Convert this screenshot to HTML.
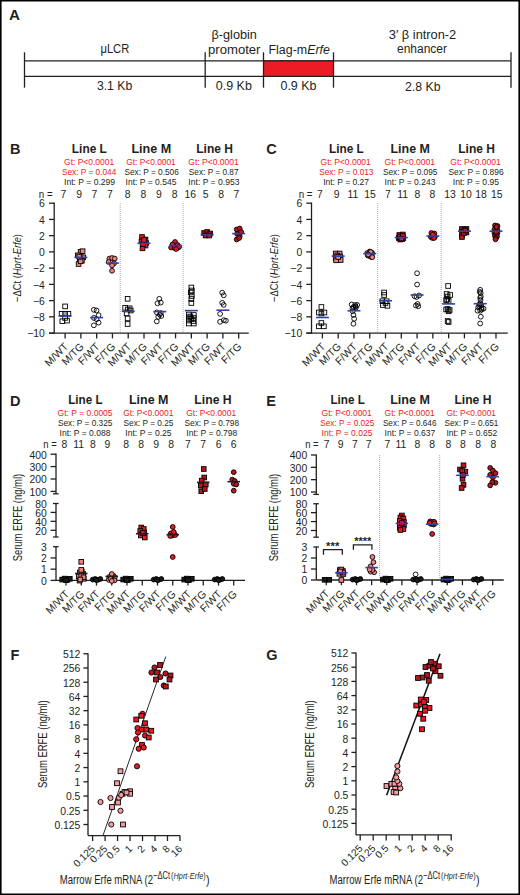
<!DOCTYPE html>
<html><head><meta charset="utf-8"><title>Figure</title>
<style>
html,body{margin:0;padding:0;background:#fff;}
body{width:520px;height:895px;overflow:hidden;}
svg{display:block;font-family:"Liberation Sans", sans-serif;}
</style></head>
<body>
<svg width="520" height="895" viewBox="0 0 520 895" fill="#231F20">
<rect x="0.8" y="0.7" width="518.4" height="893.6" fill="none" stroke="#000" stroke-width="1.6"/>
<text x="9.00" y="19.90" font-size="15" font-weight="bold" textLength="11.00" lengthAdjust="spacingAndGlyphs">A</text>
<line x1="24.50" y1="60.80" x2="511.00" y2="60.80" stroke="#231F20" stroke-width="1.3" />
<line x1="24.50" y1="76.40" x2="511.00" y2="76.40" stroke="#231F20" stroke-width="1.3" />
<rect x="263.5" y="60.8" width="70" height="15.6" fill="#ED1C24"/>
<line x1="263.50" y1="60.80" x2="333.50" y2="60.80" stroke="#231F20" stroke-width="1.3" />
<line x1="263.50" y1="76.40" x2="333.50" y2="76.40" stroke="#231F20" stroke-width="1.3" />
<line x1="24.50" y1="52.30" x2="24.50" y2="87.70" stroke="#231F20" stroke-width="1.3" />
<line x1="205.20" y1="52.30" x2="205.20" y2="87.70" stroke="#231F20" stroke-width="1.3" />
<line x1="263.50" y1="52.30" x2="263.50" y2="87.70" stroke="#231F20" stroke-width="1.3" />
<line x1="333.50" y1="52.30" x2="333.50" y2="87.70" stroke="#231F20" stroke-width="1.3" />
<line x1="511.00" y1="52.30" x2="511.00" y2="87.70" stroke="#231F20" stroke-width="1.3" />
<text x="114.85" y="52.80" font-size="12.3" text-anchor="middle" textLength="28.80" lengthAdjust="spacingAndGlyphs">μLCR</text>
<text x="114.60" y="90.30" font-size="12.3" text-anchor="middle" textLength="35.40" lengthAdjust="spacingAndGlyphs">3.1 Kb</text>
<text x="234.20" y="38.80" font-size="12.3" text-anchor="middle" textLength="45.40" lengthAdjust="spacingAndGlyphs">β-globin</text>
<text x="234.25" y="53.50" font-size="12.3" text-anchor="middle" textLength="52.50" lengthAdjust="spacingAndGlyphs">promoter</text>
<text x="233.80" y="89.80" font-size="12.3" text-anchor="middle" textLength="36.10" lengthAdjust="spacingAndGlyphs">0.9 Kb</text>
<text x="268.5" y="53.5" font-size="12.3" textLength="61.5" lengthAdjust="spacingAndGlyphs">Flag-m<tspan font-style="italic">Erfe</tspan></text>
<text x="298.50" y="89.80" font-size="12.3" text-anchor="middle" textLength="36.10" lengthAdjust="spacingAndGlyphs">0.9 Kb</text>
<text x="422.50" y="38.75" font-size="12.3" text-anchor="middle" textLength="67.50" lengthAdjust="spacingAndGlyphs">3′ β intron-2</text>
<text x="422.00" y="53.00" font-size="12.3" text-anchor="middle" textLength="50.00" lengthAdjust="spacingAndGlyphs">enhancer</text>
<text x="422.75" y="90.50" font-size="12.3" text-anchor="middle" textLength="35.50" lengthAdjust="spacingAndGlyphs">2.8 Kb</text>
<text x="10.00" y="153.80" font-size="14.5" font-weight="bold">B</text>
<text x="89.35" y="153.00" font-size="11.9" text-anchor="middle" font-weight="bold" textLength="35.10" lengthAdjust="spacingAndGlyphs">Line L</text>
<text x="89.15" y="165.10" font-size="8.3" text-anchor="middle" fill="#ED1C24" textLength="50.10" lengthAdjust="spacingAndGlyphs">Gt: P&lt;0.0001</text>
<text x="89.10" y="175.10" font-size="8.3" text-anchor="middle" fill="#ED1C24" textLength="54.40" lengthAdjust="spacingAndGlyphs">Sex: P = 0.044</text>
<text x="89.60" y="185.10" font-size="8.3" text-anchor="middle" textLength="51.00" lengthAdjust="spacingAndGlyphs">Int: P = 0.299</text>
<text x="151.30" y="153.00" font-size="11.9" text-anchor="middle" font-weight="bold" textLength="39.80" lengthAdjust="spacingAndGlyphs">Line M</text>
<text x="151.00" y="165.10" font-size="8.3" text-anchor="middle" fill="#ED1C24" textLength="49.60" lengthAdjust="spacingAndGlyphs">Gt: P&lt;0.0001</text>
<text x="151.60" y="175.10" font-size="8.3" text-anchor="middle" textLength="54.40" lengthAdjust="spacingAndGlyphs">Sex: P = 0.506</text>
<text x="151.00" y="185.10" font-size="8.3" text-anchor="middle" textLength="50.80" lengthAdjust="spacingAndGlyphs">Int: P = 0.545</text>
<text x="214.60" y="153.00" font-size="11.9" text-anchor="middle" font-weight="bold" textLength="36.80" lengthAdjust="spacingAndGlyphs">Line H</text>
<text x="213.50" y="165.10" font-size="8.3" text-anchor="middle" fill="#ED1C24" textLength="50.50" lengthAdjust="spacingAndGlyphs">Gt: P&lt;0.0001</text>
<text x="213.70" y="175.10" font-size="8.3" text-anchor="middle" textLength="49.70" lengthAdjust="spacingAndGlyphs">Sex: P = 0.87</text>
<text x="213.90" y="185.10" font-size="8.3" text-anchor="middle" textLength="51.10" lengthAdjust="spacingAndGlyphs">Int: P = 0.953</text>
<text x="52.60" y="197.80" font-size="10.4" text-anchor="end" textLength="13.80" lengthAdjust="spacingAndGlyphs">n =</text>
<text x="63.40" y="197.80" font-size="10.4" text-anchor="middle">7</text>
<text x="79.20" y="197.80" font-size="10.4" text-anchor="middle">9</text>
<text x="94.50" y="197.80" font-size="10.4" text-anchor="middle">7</text>
<text x="110.00" y="197.80" font-size="10.4" text-anchor="middle">7</text>
<text x="127.70" y="197.80" font-size="10.4" text-anchor="middle">8</text>
<text x="143.30" y="197.80" font-size="10.4" text-anchor="middle">8</text>
<text x="158.90" y="197.80" font-size="10.4" text-anchor="middle">9</text>
<text x="174.60" y="197.80" font-size="10.4" text-anchor="middle">8</text>
<text x="190.30" y="197.80" font-size="10.4" text-anchor="middle">16</text>
<text x="205.70" y="197.80" font-size="10.4" text-anchor="middle">5</text>
<text x="221.10" y="197.80" font-size="10.4" text-anchor="middle">8</text>
<text x="236.40" y="197.80" font-size="10.4" text-anchor="middle">7</text>
<line x1="54.20" y1="202.58" x2="54.20" y2="333.70" stroke="#231F20" stroke-width="1.3" />
<line x1="49.00" y1="333.10" x2="54.20" y2="333.10" stroke="#231F20" stroke-width="1.3" />
<text x="44.90" y="337.40" font-size="10.4" text-anchor="end">−10</text>
<line x1="49.00" y1="316.86" x2="54.20" y2="316.86" stroke="#231F20" stroke-width="1.3" />
<text x="44.90" y="321.16" font-size="10.4" text-anchor="end">−8</text>
<line x1="49.00" y1="300.62" x2="54.20" y2="300.62" stroke="#231F20" stroke-width="1.3" />
<text x="44.90" y="304.92" font-size="10.4" text-anchor="end">−6</text>
<line x1="49.00" y1="284.38" x2="54.20" y2="284.38" stroke="#231F20" stroke-width="1.3" />
<text x="44.90" y="288.68" font-size="10.4" text-anchor="end">−4</text>
<line x1="49.00" y1="268.14" x2="54.20" y2="268.14" stroke="#231F20" stroke-width="1.3" />
<text x="44.90" y="272.44" font-size="10.4" text-anchor="end">−2</text>
<line x1="49.00" y1="251.90" x2="54.20" y2="251.90" stroke="#231F20" stroke-width="1.3" />
<text x="44.90" y="256.20" font-size="10.4" text-anchor="end">0</text>
<line x1="49.00" y1="235.66" x2="54.20" y2="235.66" stroke="#231F20" stroke-width="1.3" />
<text x="44.90" y="239.96" font-size="10.4" text-anchor="end">2</text>
<line x1="49.00" y1="219.42" x2="54.20" y2="219.42" stroke="#231F20" stroke-width="1.3" />
<text x="44.90" y="223.72" font-size="10.4" text-anchor="end">4</text>
<line x1="49.00" y1="203.18" x2="54.20" y2="203.18" stroke="#231F20" stroke-width="1.3" />
<text x="44.90" y="207.48" font-size="10.4" text-anchor="end">6</text>
<line x1="49.00" y1="333.10" x2="248.75" y2="333.10" stroke="#231F20" stroke-width="1.3" />
<line x1="65.10" y1="333.10" x2="65.10" y2="338.40" stroke="#231F20" stroke-width="1.3" />
<text x="68.80" y="347.30" font-size="10.5" text-anchor="end" transform="rotate(-45 68.80 347.30)">M/WT</text>
<line x1="80.88" y1="333.10" x2="80.88" y2="338.40" stroke="#231F20" stroke-width="1.3" />
<text x="84.58" y="347.30" font-size="10.5" text-anchor="end" transform="rotate(-45 84.58 347.30)">M/TG</text>
<line x1="96.66" y1="333.10" x2="96.66" y2="338.40" stroke="#231F20" stroke-width="1.3" />
<text x="100.36" y="347.30" font-size="10.5" text-anchor="end" transform="rotate(-45 100.36 347.30)">F/WT</text>
<line x1="112.44" y1="333.10" x2="112.44" y2="338.40" stroke="#231F20" stroke-width="1.3" />
<text x="116.14" y="347.30" font-size="10.5" text-anchor="end" transform="rotate(-45 116.14 347.30)">F/TG</text>
<line x1="128.22" y1="333.10" x2="128.22" y2="338.40" stroke="#231F20" stroke-width="1.3" />
<text x="131.92" y="347.30" font-size="10.5" text-anchor="end" transform="rotate(-45 131.92 347.30)">M/WT</text>
<line x1="144.00" y1="333.10" x2="144.00" y2="338.40" stroke="#231F20" stroke-width="1.3" />
<text x="147.70" y="347.30" font-size="10.5" text-anchor="end" transform="rotate(-45 147.70 347.30)">M/TG</text>
<line x1="159.78" y1="333.10" x2="159.78" y2="338.40" stroke="#231F20" stroke-width="1.3" />
<text x="163.48" y="347.30" font-size="10.5" text-anchor="end" transform="rotate(-45 163.48 347.30)">F/WT</text>
<line x1="175.56" y1="333.10" x2="175.56" y2="338.40" stroke="#231F20" stroke-width="1.3" />
<text x="179.26" y="347.30" font-size="10.5" text-anchor="end" transform="rotate(-45 179.26 347.30)">F/TG</text>
<line x1="191.34" y1="333.10" x2="191.34" y2="338.40" stroke="#231F20" stroke-width="1.3" />
<text x="195.04" y="347.30" font-size="10.5" text-anchor="end" transform="rotate(-45 195.04 347.30)">M/WT</text>
<line x1="207.12" y1="333.10" x2="207.12" y2="338.40" stroke="#231F20" stroke-width="1.3" />
<text x="210.82" y="347.30" font-size="10.5" text-anchor="end" transform="rotate(-45 210.82 347.30)">M/TG</text>
<line x1="222.90" y1="333.10" x2="222.90" y2="338.40" stroke="#231F20" stroke-width="1.3" />
<text x="226.60" y="347.30" font-size="10.5" text-anchor="end" transform="rotate(-45 226.60 347.30)">F/WT</text>
<line x1="238.68" y1="333.10" x2="238.68" y2="338.40" stroke="#231F20" stroke-width="1.3" />
<text x="242.38" y="347.30" font-size="10.5" text-anchor="end" transform="rotate(-45 242.38 347.30)">F/TG</text>
<line x1="120.20" y1="203.00" x2="120.20" y2="332.10" stroke="#9a9a9a" stroke-width="0.9" stroke-dasharray="0.9 1.1"/>
<line x1="183.10" y1="203.00" x2="183.10" y2="332.10" stroke="#9a9a9a" stroke-width="0.9" stroke-dasharray="0.9 1.1"/>
<text x="21.30" y="268.0" font-size="11.6" text-anchor="middle" textLength="68.0" lengthAdjust="spacingAndGlyphs" transform="rotate(-90 21.30 268.0)">−ΔCt (<tspan font-style="italic">Hprt-Erfe</tspan>)</text>
<rect x="62.78" y="304.07" width="4.65" height="4.65" fill="none" stroke="#000" stroke-width="0.9"/>
<rect x="59.28" y="311.48" width="4.65" height="4.65" fill="none" stroke="#000" stroke-width="0.9"/>
<rect x="62.78" y="311.48" width="4.65" height="4.65" fill="none" stroke="#000" stroke-width="0.9"/>
<rect x="66.08" y="311.48" width="4.65" height="4.65" fill="none" stroke="#000" stroke-width="0.9"/>
<rect x="59.98" y="318.88" width="4.65" height="4.65" fill="none" stroke="#000" stroke-width="0.9"/>
<rect x="64.68" y="318.28" width="4.65" height="4.65" fill="none" stroke="#000" stroke-width="0.9"/>
<rect x="62.78" y="315.57" width="4.65" height="4.65" fill="none" stroke="#000" stroke-width="0.9"/>
<line x1="58.60" y1="315.80" x2="71.60" y2="315.80" stroke="#2D43A8" stroke-width="1.6" />
<rect x="78.26" y="249.58" width="4.65" height="4.65" fill="#F2807E" stroke="#000" stroke-width="0.9"/>
<rect x="80.26" y="248.88" width="4.65" height="4.65" fill="#F2807E" stroke="#000" stroke-width="0.9"/>
<rect x="75.56" y="252.98" width="4.65" height="4.65" fill="#F2807E" stroke="#000" stroke-width="0.9"/>
<rect x="80.96" y="254.98" width="4.65" height="4.65" fill="#F2807E" stroke="#000" stroke-width="0.9"/>
<rect x="77.56" y="256.28" width="4.65" height="4.65" fill="#F2807E" stroke="#000" stroke-width="0.9"/>
<rect x="79.56" y="258.38" width="4.65" height="4.65" fill="#F2807E" stroke="#000" stroke-width="0.9"/>
<rect x="76.26" y="261.68" width="4.65" height="4.65" fill="#F2807E" stroke="#000" stroke-width="0.9"/>
<rect x="78.26" y="258.98" width="4.65" height="4.65" fill="#F2807E" stroke="#000" stroke-width="0.9"/>
<rect x="76.86" y="254.28" width="4.65" height="4.65" fill="#F2807E" stroke="#000" stroke-width="0.9"/>
<line x1="74.38" y1="257.40" x2="87.38" y2="257.40" stroke="#2D43A8" stroke-width="1.6" />
<circle cx="93.86" cy="309.80" r="2.40" fill="none" stroke="#000" stroke-width="0.9"/>
<circle cx="96.56" cy="310.50" r="2.40" fill="none" stroke="#000" stroke-width="0.9"/>
<circle cx="98.56" cy="315.20" r="2.40" fill="none" stroke="#000" stroke-width="0.9"/>
<circle cx="93.86" cy="317.90" r="2.40" fill="none" stroke="#000" stroke-width="0.9"/>
<circle cx="96.56" cy="319.20" r="2.40" fill="none" stroke="#000" stroke-width="0.9"/>
<circle cx="98.56" cy="322.60" r="2.40" fill="none" stroke="#000" stroke-width="0.9"/>
<circle cx="93.86" cy="325.30" r="2.40" fill="none" stroke="#000" stroke-width="0.9"/>
<line x1="90.16" y1="317.60" x2="103.16" y2="317.60" stroke="#2D43A8" stroke-width="1.6" />
<circle cx="109.34" cy="258.60" r="2.40" fill="#F2807E" stroke="#000" stroke-width="0.9"/>
<circle cx="112.04" cy="258.00" r="2.40" fill="#F2807E" stroke="#000" stroke-width="0.9"/>
<circle cx="114.74" cy="258.60" r="2.40" fill="#F2807E" stroke="#000" stroke-width="0.9"/>
<circle cx="108.64" cy="262.00" r="2.40" fill="#F2807E" stroke="#000" stroke-width="0.9"/>
<circle cx="114.04" cy="263.40" r="2.40" fill="#F2807E" stroke="#000" stroke-width="0.9"/>
<circle cx="112.04" cy="265.40" r="2.40" fill="#F2807E" stroke="#000" stroke-width="0.9"/>
<circle cx="112.04" cy="270.80" r="2.40" fill="#F2807E" stroke="#000" stroke-width="0.9"/>
<line x1="105.94" y1="263.10" x2="118.94" y2="263.10" stroke="#2D43A8" stroke-width="1.6" />
<rect x="125.30" y="296.48" width="4.65" height="4.65" fill="none" stroke="#000" stroke-width="0.9"/>
<rect x="122.80" y="305.48" width="4.65" height="4.65" fill="none" stroke="#000" stroke-width="0.9"/>
<rect x="127.30" y="305.98" width="4.65" height="4.65" fill="none" stroke="#000" stroke-width="0.9"/>
<rect x="124.30" y="311.07" width="4.65" height="4.65" fill="none" stroke="#000" stroke-width="0.9"/>
<rect x="125.30" y="316.07" width="4.65" height="4.65" fill="none" stroke="#000" stroke-width="0.9"/>
<rect x="125.30" y="321.68" width="4.65" height="4.65" fill="none" stroke="#000" stroke-width="0.9"/>
<rect x="125.39" y="307.18" width="4.65" height="4.65" fill="none" stroke="#000" stroke-width="0.9"/>
<rect x="128.40" y="308.18" width="4.65" height="4.65" fill="none" stroke="#000" stroke-width="0.9"/>
<line x1="121.72" y1="311.30" x2="134.72" y2="311.30" stroke="#2D43A8" stroke-width="1.6" />
<rect x="139.68" y="234.68" width="4.65" height="4.65" fill="#EE1620" stroke="#000" stroke-width="0.9"/>
<rect x="143.18" y="237.18" width="4.65" height="4.65" fill="#EE1620" stroke="#000" stroke-width="0.9"/>
<rect x="143.68" y="240.68" width="4.65" height="4.65" fill="#EE1620" stroke="#000" stroke-width="0.9"/>
<rect x="139.18" y="239.18" width="4.65" height="4.65" fill="#EE1620" stroke="#000" stroke-width="0.9"/>
<rect x="143.18" y="243.18" width="4.65" height="4.65" fill="#EE1620" stroke="#000" stroke-width="0.9"/>
<rect x="140.18" y="245.98" width="4.65" height="4.65" fill="#EE1620" stroke="#000" stroke-width="0.9"/>
<rect x="140.68" y="241.68" width="4.65" height="4.65" fill="#EE1620" stroke="#000" stroke-width="0.9"/>
<rect x="141.68" y="237.68" width="4.65" height="4.65" fill="#EE1620" stroke="#000" stroke-width="0.9"/>
<line x1="137.50" y1="243.30" x2="150.50" y2="243.30" stroke="#2D43A8" stroke-width="1.6" />
<circle cx="159.28" cy="298.80" r="2.40" fill="none" stroke="#000" stroke-width="0.9"/>
<circle cx="157.48" cy="303.30" r="2.40" fill="none" stroke="#000" stroke-width="0.9"/>
<circle cx="160.78" cy="302.60" r="2.40" fill="none" stroke="#000" stroke-width="0.9"/>
<circle cx="156.78" cy="312.40" r="2.40" fill="none" stroke="#000" stroke-width="0.9"/>
<circle cx="159.78" cy="314.60" r="2.40" fill="none" stroke="#000" stroke-width="0.9"/>
<circle cx="161.28" cy="316.00" r="2.40" fill="none" stroke="#000" stroke-width="0.9"/>
<circle cx="158.28" cy="316.90" r="2.40" fill="none" stroke="#000" stroke-width="0.9"/>
<circle cx="156.78" cy="321.40" r="2.40" fill="none" stroke="#000" stroke-width="0.9"/>
<circle cx="160.78" cy="313.00" r="2.40" fill="none" stroke="#000" stroke-width="0.9"/>
<line x1="153.28" y1="311.60" x2="166.28" y2="311.60" stroke="#2D43A8" stroke-width="1.6" />
<circle cx="175.06" cy="242.00" r="2.40" fill="#EE1620" stroke="#000" stroke-width="0.9"/>
<circle cx="172.56" cy="244.50" r="2.40" fill="#EE1620" stroke="#000" stroke-width="0.9"/>
<circle cx="177.56" cy="245.00" r="2.40" fill="#EE1620" stroke="#000" stroke-width="0.9"/>
<circle cx="171.06" cy="247.50" r="2.40" fill="#EE1620" stroke="#000" stroke-width="0.9"/>
<circle cx="174.56" cy="248.00" r="2.40" fill="#EE1620" stroke="#000" stroke-width="0.9"/>
<circle cx="177.56" cy="248.00" r="2.40" fill="#EE1620" stroke="#000" stroke-width="0.9"/>
<circle cx="179.06" cy="247.00" r="2.40" fill="#EE1620" stroke="#000" stroke-width="0.9"/>
<circle cx="176.06" cy="249.00" r="2.40" fill="#EE1620" stroke="#000" stroke-width="0.9"/>
<line x1="169.06" y1="245.50" x2="182.06" y2="245.50" stroke="#2D43A8" stroke-width="1.6" />
<rect x="189.02" y="285.18" width="4.65" height="4.65" fill="none" stroke="#000" stroke-width="0.9"/>
<rect x="189.52" y="288.18" width="4.65" height="4.65" fill="none" stroke="#000" stroke-width="0.9"/>
<rect x="188.52" y="290.18" width="4.65" height="4.65" fill="none" stroke="#000" stroke-width="0.9"/>
<rect x="189.52" y="293.68" width="4.65" height="4.65" fill="none" stroke="#000" stroke-width="0.9"/>
<rect x="189.02" y="296.68" width="4.65" height="4.65" fill="none" stroke="#000" stroke-width="0.9"/>
<rect x="189.02" y="300.68" width="4.65" height="4.65" fill="none" stroke="#000" stroke-width="0.9"/>
<rect x="186.52" y="312.18" width="4.65" height="4.65" fill="none" stroke="#000" stroke-width="0.9"/>
<rect x="191.52" y="312.68" width="4.65" height="4.65" fill="none" stroke="#000" stroke-width="0.9"/>
<rect x="186.52" y="315.18" width="4.65" height="4.65" fill="none" stroke="#000" stroke-width="0.9"/>
<rect x="191.52" y="315.68" width="4.65" height="4.65" fill="none" stroke="#000" stroke-width="0.9"/>
<rect x="186.52" y="318.18" width="4.65" height="4.65" fill="none" stroke="#000" stroke-width="0.9"/>
<rect x="191.02" y="318.68" width="4.65" height="4.65" fill="none" stroke="#000" stroke-width="0.9"/>
<rect x="186.52" y="321.18" width="4.65" height="4.65" fill="none" stroke="#000" stroke-width="0.9"/>
<rect x="191.52" y="321.18" width="4.65" height="4.65" fill="none" stroke="#000" stroke-width="0.9"/>
<rect x="189.02" y="316.68" width="4.65" height="4.65" fill="none" stroke="#000" stroke-width="0.9"/>
<rect x="188.02" y="314.18" width="4.65" height="4.65" fill="none" stroke="#000" stroke-width="0.9"/>
<line x1="184.84" y1="310.60" x2="197.84" y2="310.60" stroke="#2D43A8" stroke-width="1.6" />
<rect x="201.80" y="230.68" width="4.65" height="4.65" fill="#B8161E" stroke="#000" stroke-width="0.9"/>
<rect x="204.80" y="229.68" width="4.65" height="4.65" fill="#B8161E" stroke="#000" stroke-width="0.9"/>
<rect x="207.80" y="231.18" width="4.65" height="4.65" fill="#B8161E" stroke="#000" stroke-width="0.9"/>
<rect x="203.30" y="233.18" width="4.65" height="4.65" fill="#B8161E" stroke="#000" stroke-width="0.9"/>
<rect x="206.80" y="233.18" width="4.65" height="4.65" fill="#B8161E" stroke="#000" stroke-width="0.9"/>
<line x1="200.62" y1="234.70" x2="213.62" y2="234.70" stroke="#2D43A8" stroke-width="1.6" />
<circle cx="222.20" cy="292.70" r="2.40" fill="none" stroke="#000" stroke-width="0.9"/>
<circle cx="223.70" cy="295.30" r="2.40" fill="none" stroke="#000" stroke-width="0.9"/>
<circle cx="222.20" cy="302.80" r="2.40" fill="none" stroke="#000" stroke-width="0.9"/>
<circle cx="223.70" cy="304.90" r="2.40" fill="none" stroke="#000" stroke-width="0.9"/>
<circle cx="220.10" cy="313.90" r="2.40" fill="none" stroke="#000" stroke-width="0.9"/>
<circle cx="220.10" cy="321.80" r="2.40" fill="none" stroke="#000" stroke-width="0.9"/>
<circle cx="223.80" cy="320.20" r="2.40" fill="none" stroke="#000" stroke-width="0.9"/>
<circle cx="225.90" cy="320.70" r="2.40" fill="none" stroke="#000" stroke-width="0.9"/>
<line x1="216.40" y1="310.20" x2="229.40" y2="310.20" stroke="#2D43A8" stroke-width="1.6" />
<circle cx="236.68" cy="229.50" r="2.40" fill="#B8161E" stroke="#000" stroke-width="0.9"/>
<circle cx="239.68" cy="228.50" r="2.40" fill="#B8161E" stroke="#000" stroke-width="0.9"/>
<circle cx="241.18" cy="232.00" r="2.40" fill="#B8161E" stroke="#000" stroke-width="0.9"/>
<circle cx="237.18" cy="234.00" r="2.40" fill="#B8161E" stroke="#000" stroke-width="0.9"/>
<circle cx="239.68" cy="236.50" r="2.40" fill="#B8161E" stroke="#000" stroke-width="0.9"/>
<circle cx="236.68" cy="239.50" r="2.40" fill="#B8161E" stroke="#000" stroke-width="0.9"/>
<circle cx="239.18" cy="238.00" r="2.40" fill="#B8161E" stroke="#000" stroke-width="0.9"/>
<line x1="232.18" y1="233.60" x2="245.18" y2="233.60" stroke="#2D43A8" stroke-width="1.6" />
<text x="266.30" y="153.80" font-size="14.5" font-weight="bold">C</text>
<text x="346.40" y="153.00" font-size="11.9" text-anchor="middle" font-weight="bold" textLength="34.80" lengthAdjust="spacingAndGlyphs">Line L</text>
<text x="345.70" y="165.10" font-size="8.3" text-anchor="middle" fill="#ED1C24" textLength="50.20" lengthAdjust="spacingAndGlyphs">Gt: P&lt;0.0001</text>
<text x="346.30" y="175.10" font-size="8.3" text-anchor="middle" fill="#ED1C24" textLength="54.30" lengthAdjust="spacingAndGlyphs">Sex: P = 0.013</text>
<text x="346.10" y="185.10" font-size="8.3" text-anchor="middle" textLength="45.80" lengthAdjust="spacingAndGlyphs">Int: P = 0.27</text>
<text x="410.20" y="153.00" font-size="11.9" text-anchor="middle" font-weight="bold" textLength="39.50" lengthAdjust="spacingAndGlyphs">Line M</text>
<text x="409.80" y="165.10" font-size="8.3" text-anchor="middle" fill="#ED1C24" textLength="50.40" lengthAdjust="spacingAndGlyphs">Gt: P&lt;0.0001</text>
<text x="410.20" y="175.10" font-size="8.3" text-anchor="middle" textLength="54.50" lengthAdjust="spacingAndGlyphs">Sex: P = 0.095</text>
<text x="410.00" y="185.10" font-size="8.3" text-anchor="middle" textLength="50.80" lengthAdjust="spacingAndGlyphs">Int: P = 0.243</text>
<text x="476.60" y="153.00" font-size="11.9" text-anchor="middle" font-weight="bold" textLength="36.80" lengthAdjust="spacingAndGlyphs">Line H</text>
<text x="475.60" y="165.10" font-size="8.3" text-anchor="middle" fill="#ED1C24" textLength="50.50" lengthAdjust="spacingAndGlyphs">Gt: P&lt;0.0001</text>
<text x="476.00" y="175.10" font-size="8.3" text-anchor="middle" textLength="55.20" lengthAdjust="spacingAndGlyphs">Sex: P = 0.896</text>
<text x="475.90" y="185.10" font-size="8.3" text-anchor="middle" textLength="46.30" lengthAdjust="spacingAndGlyphs">Int: P = 0.95</text>
<text x="312.50" y="197.80" font-size="10.4" text-anchor="end" textLength="13.80" lengthAdjust="spacingAndGlyphs">n =</text>
<text x="320.00" y="197.80" font-size="10.4" text-anchor="middle">7</text>
<text x="336.75" y="197.80" font-size="10.4" text-anchor="middle">9</text>
<text x="353.00" y="197.80" font-size="10.4" text-anchor="middle">11</text>
<text x="370.00" y="197.80" font-size="10.4" text-anchor="middle">15</text>
<text x="387.90" y="197.80" font-size="10.4" text-anchor="middle">7</text>
<text x="402.60" y="197.80" font-size="10.4" text-anchor="middle">11</text>
<text x="417.50" y="197.80" font-size="10.4" text-anchor="middle">8</text>
<text x="432.50" y="197.80" font-size="10.4" text-anchor="middle">8</text>
<text x="450.10" y="197.80" font-size="10.4" text-anchor="middle">13</text>
<text x="466.00" y="197.80" font-size="10.4" text-anchor="middle">10</text>
<text x="481.00" y="197.80" font-size="10.4" text-anchor="middle">18</text>
<text x="496.80" y="197.80" font-size="10.4" text-anchor="middle">15</text>
<line x1="311.50" y1="202.58" x2="311.50" y2="333.70" stroke="#231F20" stroke-width="1.3" />
<line x1="306.30" y1="333.10" x2="311.50" y2="333.10" stroke="#231F20" stroke-width="1.3" />
<text x="302.20" y="337.40" font-size="10.4" text-anchor="end">−10</text>
<line x1="306.30" y1="316.86" x2="311.50" y2="316.86" stroke="#231F20" stroke-width="1.3" />
<text x="302.20" y="321.16" font-size="10.4" text-anchor="end">−8</text>
<line x1="306.30" y1="300.62" x2="311.50" y2="300.62" stroke="#231F20" stroke-width="1.3" />
<text x="302.20" y="304.92" font-size="10.4" text-anchor="end">−6</text>
<line x1="306.30" y1="284.38" x2="311.50" y2="284.38" stroke="#231F20" stroke-width="1.3" />
<text x="302.20" y="288.68" font-size="10.4" text-anchor="end">−4</text>
<line x1="306.30" y1="268.14" x2="311.50" y2="268.14" stroke="#231F20" stroke-width="1.3" />
<text x="302.20" y="272.44" font-size="10.4" text-anchor="end">−2</text>
<line x1="306.30" y1="251.90" x2="311.50" y2="251.90" stroke="#231F20" stroke-width="1.3" />
<text x="302.20" y="256.20" font-size="10.4" text-anchor="end">0</text>
<line x1="306.30" y1="235.66" x2="311.50" y2="235.66" stroke="#231F20" stroke-width="1.3" />
<text x="302.20" y="239.96" font-size="10.4" text-anchor="end">2</text>
<line x1="306.30" y1="219.42" x2="311.50" y2="219.42" stroke="#231F20" stroke-width="1.3" />
<text x="302.20" y="223.72" font-size="10.4" text-anchor="end">4</text>
<line x1="306.30" y1="203.18" x2="311.50" y2="203.18" stroke="#231F20" stroke-width="1.3" />
<text x="302.20" y="207.48" font-size="10.4" text-anchor="end">6</text>
<line x1="306.30" y1="333.10" x2="507.80" y2="333.10" stroke="#231F20" stroke-width="1.3" />
<line x1="322.40" y1="333.10" x2="322.40" y2="338.40" stroke="#231F20" stroke-width="1.3" />
<text x="326.10" y="347.30" font-size="10.5" text-anchor="end" transform="rotate(-45 326.10 347.30)">M/WT</text>
<line x1="338.18" y1="333.10" x2="338.18" y2="338.40" stroke="#231F20" stroke-width="1.3" />
<text x="341.88" y="347.30" font-size="10.5" text-anchor="end" transform="rotate(-45 341.88 347.30)">M/TG</text>
<line x1="353.96" y1="333.10" x2="353.96" y2="338.40" stroke="#231F20" stroke-width="1.3" />
<text x="357.66" y="347.30" font-size="10.5" text-anchor="end" transform="rotate(-45 357.66 347.30)">F/WT</text>
<line x1="369.74" y1="333.10" x2="369.74" y2="338.40" stroke="#231F20" stroke-width="1.3" />
<text x="373.44" y="347.30" font-size="10.5" text-anchor="end" transform="rotate(-45 373.44 347.30)">F/TG</text>
<line x1="385.52" y1="333.10" x2="385.52" y2="338.40" stroke="#231F20" stroke-width="1.3" />
<text x="389.22" y="347.30" font-size="10.5" text-anchor="end" transform="rotate(-45 389.22 347.30)">M/WT</text>
<line x1="401.30" y1="333.10" x2="401.30" y2="338.40" stroke="#231F20" stroke-width="1.3" />
<text x="405.00" y="347.30" font-size="10.5" text-anchor="end" transform="rotate(-45 405.00 347.30)">M/TG</text>
<line x1="417.08" y1="333.10" x2="417.08" y2="338.40" stroke="#231F20" stroke-width="1.3" />
<text x="420.78" y="347.30" font-size="10.5" text-anchor="end" transform="rotate(-45 420.78 347.30)">F/WT</text>
<line x1="432.86" y1="333.10" x2="432.86" y2="338.40" stroke="#231F20" stroke-width="1.3" />
<text x="436.56" y="347.30" font-size="10.5" text-anchor="end" transform="rotate(-45 436.56 347.30)">F/TG</text>
<line x1="448.64" y1="333.10" x2="448.64" y2="338.40" stroke="#231F20" stroke-width="1.3" />
<text x="452.34" y="347.30" font-size="10.5" text-anchor="end" transform="rotate(-45 452.34 347.30)">M/WT</text>
<line x1="464.42" y1="333.10" x2="464.42" y2="338.40" stroke="#231F20" stroke-width="1.3" />
<text x="468.12" y="347.30" font-size="10.5" text-anchor="end" transform="rotate(-45 468.12 347.30)">M/TG</text>
<line x1="480.20" y1="333.10" x2="480.20" y2="338.40" stroke="#231F20" stroke-width="1.3" />
<text x="483.90" y="347.30" font-size="10.5" text-anchor="end" transform="rotate(-45 483.90 347.30)">F/WT</text>
<line x1="495.98" y1="333.10" x2="495.98" y2="338.40" stroke="#231F20" stroke-width="1.3" />
<text x="499.68" y="347.30" font-size="10.5" text-anchor="end" transform="rotate(-45 499.68 347.30)">F/TG</text>
<line x1="377.70" y1="203.00" x2="377.70" y2="332.10" stroke="#9a9a9a" stroke-width="0.9" stroke-dasharray="0.9 1.1"/>
<line x1="441.20" y1="203.00" x2="441.20" y2="332.10" stroke="#9a9a9a" stroke-width="0.9" stroke-dasharray="0.9 1.1"/>
<text x="277.90" y="268.0" font-size="11.6" text-anchor="middle" textLength="68.0" lengthAdjust="spacingAndGlyphs" transform="rotate(-90 277.90 268.0)">−ΔCt (<tspan font-style="italic">Hprt-Erfe</tspan>)</text>
<rect x="319.07" y="304.68" width="4.65" height="4.65" fill="none" stroke="#000" stroke-width="0.9"/>
<rect x="316.57" y="310.18" width="4.65" height="4.65" fill="none" stroke="#000" stroke-width="0.9"/>
<rect x="322.07" y="310.18" width="4.65" height="4.65" fill="none" stroke="#000" stroke-width="0.9"/>
<rect x="319.07" y="311.18" width="4.65" height="4.65" fill="none" stroke="#000" stroke-width="0.9"/>
<rect x="319.07" y="320.68" width="4.65" height="4.65" fill="none" stroke="#000" stroke-width="0.9"/>
<rect x="316.57" y="323.98" width="4.65" height="4.65" fill="none" stroke="#000" stroke-width="0.9"/>
<rect x="321.57" y="323.98" width="4.65" height="4.65" fill="none" stroke="#000" stroke-width="0.9"/>
<line x1="315.90" y1="317.50" x2="328.90" y2="317.50" stroke="#2D43A8" stroke-width="1.6" />
<rect x="333.35" y="251.18" width="4.65" height="4.65" fill="#F2807E" stroke="#000" stroke-width="0.9"/>
<rect x="337.35" y="251.18" width="4.65" height="4.65" fill="#F2807E" stroke="#000" stroke-width="0.9"/>
<rect x="334.85" y="253.18" width="4.65" height="4.65" fill="#F2807E" stroke="#000" stroke-width="0.9"/>
<rect x="337.85" y="254.18" width="4.65" height="4.65" fill="#F2807E" stroke="#000" stroke-width="0.9"/>
<rect x="333.35" y="256.18" width="4.65" height="4.65" fill="#F2807E" stroke="#000" stroke-width="0.9"/>
<rect x="336.35" y="257.18" width="4.65" height="4.65" fill="#F2807E" stroke="#000" stroke-width="0.9"/>
<rect x="338.35" y="257.68" width="4.65" height="4.65" fill="#F2807E" stroke="#000" stroke-width="0.9"/>
<rect x="333.85" y="257.98" width="4.65" height="4.65" fill="#F2807E" stroke="#000" stroke-width="0.9"/>
<rect x="335.85" y="254.68" width="4.65" height="4.65" fill="#F2807E" stroke="#000" stroke-width="0.9"/>
<line x1="331.68" y1="256.10" x2="344.68" y2="256.10" stroke="#2D43A8" stroke-width="1.6" />
<circle cx="351.66" cy="304.50" r="2.40" fill="none" stroke="#000" stroke-width="0.9"/>
<circle cx="355.16" cy="305.00" r="2.40" fill="none" stroke="#000" stroke-width="0.9"/>
<circle cx="357.16" cy="305.00" r="2.40" fill="none" stroke="#000" stroke-width="0.9"/>
<circle cx="353.46" cy="307.00" r="2.40" fill="none" stroke="#000" stroke-width="0.9"/>
<circle cx="355.46" cy="306.50" r="2.40" fill="none" stroke="#000" stroke-width="0.9"/>
<circle cx="352.66" cy="311.25" r="2.40" fill="none" stroke="#000" stroke-width="0.9"/>
<circle cx="353.46" cy="315.00" r="2.40" fill="none" stroke="#000" stroke-width="0.9"/>
<circle cx="354.16" cy="318.75" r="2.40" fill="none" stroke="#000" stroke-width="0.9"/>
<circle cx="353.46" cy="323.75" r="2.40" fill="none" stroke="#000" stroke-width="0.9"/>
<circle cx="355.96" cy="307.50" r="2.40" fill="none" stroke="#000" stroke-width="0.9"/>
<circle cx="352.46" cy="308.50" r="2.40" fill="none" stroke="#000" stroke-width="0.9"/>
<line x1="347.46" y1="310.75" x2="360.46" y2="310.75" stroke="#2D43A8" stroke-width="1.6" />
<circle cx="369.74" cy="251.50" r="2.40" fill="#F2807E" stroke="#000" stroke-width="0.9"/>
<circle cx="367.24" cy="253.00" r="2.40" fill="#F2807E" stroke="#000" stroke-width="0.9"/>
<circle cx="372.24" cy="253.00" r="2.40" fill="#F2807E" stroke="#000" stroke-width="0.9"/>
<circle cx="368.74" cy="254.00" r="2.40" fill="#F2807E" stroke="#000" stroke-width="0.9"/>
<circle cx="370.74" cy="253.50" r="2.40" fill="#F2807E" stroke="#000" stroke-width="0.9"/>
<circle cx="369.74" cy="255.00" r="2.40" fill="#F2807E" stroke="#000" stroke-width="0.9"/>
<circle cx="367.74" cy="255.50" r="2.40" fill="#F2807E" stroke="#000" stroke-width="0.9"/>
<circle cx="371.74" cy="255.50" r="2.40" fill="#F2807E" stroke="#000" stroke-width="0.9"/>
<circle cx="370.24" cy="256.50" r="2.40" fill="#F2807E" stroke="#000" stroke-width="0.9"/>
<circle cx="371.24" cy="256.80" r="2.40" fill="#F2807E" stroke="#000" stroke-width="0.9"/>
<circle cx="369.24" cy="252.50" r="2.40" fill="#F2807E" stroke="#000" stroke-width="0.9"/>
<circle cx="369.74" cy="254.50" r="2.40" fill="#F2807E" stroke="#000" stroke-width="0.9"/>
<circle cx="370.74" cy="252.00" r="2.40" fill="#F2807E" stroke="#000" stroke-width="0.9"/>
<circle cx="368.24" cy="254.50" r="2.40" fill="#F2807E" stroke="#000" stroke-width="0.9"/>
<circle cx="372.24" cy="257.20" r="2.40" fill="#F2807E" stroke="#000" stroke-width="0.9"/>
<line x1="363.24" y1="253.60" x2="376.24" y2="253.60" stroke="#2D43A8" stroke-width="1.6" />
<rect x="381.80" y="290.18" width="4.65" height="4.65" fill="none" stroke="#000" stroke-width="0.9"/>
<rect x="381.80" y="292.68" width="4.65" height="4.65" fill="none" stroke="#000" stroke-width="0.9"/>
<rect x="380.09" y="298.88" width="4.65" height="4.65" fill="none" stroke="#000" stroke-width="0.9"/>
<rect x="384.30" y="298.88" width="4.65" height="4.65" fill="none" stroke="#000" stroke-width="0.9"/>
<rect x="380.59" y="302.68" width="4.65" height="4.65" fill="none" stroke="#000" stroke-width="0.9"/>
<rect x="385.09" y="303.48" width="4.65" height="4.65" fill="none" stroke="#000" stroke-width="0.9"/>
<rect x="383.19" y="300.68" width="4.65" height="4.65" fill="none" stroke="#000" stroke-width="0.9"/>
<line x1="379.02" y1="300.75" x2="392.02" y2="300.75" stroke="#2D43A8" stroke-width="1.6" />
<rect x="396.97" y="232.68" width="4.65" height="4.65" fill="#EE1620" stroke="#000" stroke-width="0.9"/>
<rect x="400.47" y="232.18" width="4.65" height="4.65" fill="#EE1620" stroke="#000" stroke-width="0.9"/>
<rect x="398.97" y="234.18" width="4.65" height="4.65" fill="#EE1620" stroke="#000" stroke-width="0.9"/>
<rect x="396.47" y="235.68" width="4.65" height="4.65" fill="#EE1620" stroke="#000" stroke-width="0.9"/>
<rect x="400.97" y="235.68" width="4.65" height="4.65" fill="#EE1620" stroke="#000" stroke-width="0.9"/>
<rect x="397.97" y="237.18" width="4.65" height="4.65" fill="#EE1620" stroke="#000" stroke-width="0.9"/>
<rect x="399.97" y="236.68" width="4.65" height="4.65" fill="#EE1620" stroke="#000" stroke-width="0.9"/>
<rect x="398.97" y="235.18" width="4.65" height="4.65" fill="#EE1620" stroke="#000" stroke-width="0.9"/>
<rect x="397.47" y="234.18" width="4.65" height="4.65" fill="#EE1620" stroke="#000" stroke-width="0.9"/>
<rect x="400.47" y="233.68" width="4.65" height="4.65" fill="#EE1620" stroke="#000" stroke-width="0.9"/>
<rect x="398.97" y="236.18" width="4.65" height="4.65" fill="#EE1620" stroke="#000" stroke-width="0.9"/>
<line x1="394.80" y1="237.60" x2="407.80" y2="237.60" stroke="#2D43A8" stroke-width="1.6" />
<circle cx="417.08" cy="273.25" r="2.40" fill="none" stroke="#000" stroke-width="0.9"/>
<circle cx="417.08" cy="284.50" r="2.40" fill="none" stroke="#000" stroke-width="0.9"/>
<circle cx="414.58" cy="296.25" r="2.40" fill="none" stroke="#000" stroke-width="0.9"/>
<circle cx="419.08" cy="295.50" r="2.40" fill="none" stroke="#000" stroke-width="0.9"/>
<circle cx="416.58" cy="297.00" r="2.40" fill="none" stroke="#000" stroke-width="0.9"/>
<circle cx="415.88" cy="305.50" r="2.40" fill="none" stroke="#000" stroke-width="0.9"/>
<circle cx="418.28" cy="306.25" r="2.40" fill="none" stroke="#000" stroke-width="0.9"/>
<circle cx="417.58" cy="304.00" r="2.40" fill="none" stroke="#000" stroke-width="0.9"/>
<line x1="410.58" y1="295.00" x2="423.58" y2="295.00" stroke="#2D43A8" stroke-width="1.6" />
<circle cx="431.36" cy="233.00" r="2.40" fill="#EE1620" stroke="#000" stroke-width="0.9"/>
<circle cx="434.36" cy="233.50" r="2.40" fill="#EE1620" stroke="#000" stroke-width="0.9"/>
<circle cx="432.86" cy="235.50" r="2.40" fill="#EE1620" stroke="#000" stroke-width="0.9"/>
<circle cx="430.86" cy="237.00" r="2.40" fill="#EE1620" stroke="#000" stroke-width="0.9"/>
<circle cx="434.86" cy="237.00" r="2.40" fill="#EE1620" stroke="#000" stroke-width="0.9"/>
<circle cx="432.36" cy="238.00" r="2.40" fill="#EE1620" stroke="#000" stroke-width="0.9"/>
<circle cx="434.06" cy="238.00" r="2.40" fill="#EE1620" stroke="#000" stroke-width="0.9"/>
<circle cx="432.86" cy="234.50" r="2.40" fill="#EE1620" stroke="#000" stroke-width="0.9"/>
<line x1="426.36" y1="236.00" x2="439.36" y2="236.00" stroke="#2D43A8" stroke-width="1.6" />
<rect x="445.81" y="283.68" width="4.65" height="4.65" fill="none" stroke="#000" stroke-width="0.9"/>
<rect x="444.31" y="291.68" width="4.65" height="4.65" fill="none" stroke="#000" stroke-width="0.9"/>
<rect x="447.81" y="292.68" width="4.65" height="4.65" fill="none" stroke="#000" stroke-width="0.9"/>
<rect x="445.31" y="294.18" width="4.65" height="4.65" fill="none" stroke="#000" stroke-width="0.9"/>
<rect x="443.81" y="297.68" width="4.65" height="4.65" fill="none" stroke="#000" stroke-width="0.9"/>
<rect x="446.31" y="298.68" width="4.65" height="4.65" fill="none" stroke="#000" stroke-width="0.9"/>
<rect x="444.81" y="297.18" width="4.65" height="4.65" fill="none" stroke="#000" stroke-width="0.9"/>
<rect x="443.81" y="307.18" width="4.65" height="4.65" fill="none" stroke="#000" stroke-width="0.9"/>
<rect x="447.31" y="307.68" width="4.65" height="4.65" fill="none" stroke="#000" stroke-width="0.9"/>
<rect x="446.31" y="308.98" width="4.65" height="4.65" fill="none" stroke="#000" stroke-width="0.9"/>
<rect x="445.31" y="306.68" width="4.65" height="4.65" fill="none" stroke="#000" stroke-width="0.9"/>
<rect x="445.31" y="318.68" width="4.65" height="4.65" fill="none" stroke="#000" stroke-width="0.9"/>
<rect x="446.31" y="319.68" width="4.65" height="4.65" fill="none" stroke="#000" stroke-width="0.9"/>
<line x1="442.14" y1="303.90" x2="455.14" y2="303.90" stroke="#2D43A8" stroke-width="1.6" />
<rect x="459.59" y="226.68" width="4.65" height="4.65" fill="#B8161E" stroke="#000" stroke-width="0.9"/>
<rect x="464.09" y="226.68" width="4.65" height="4.65" fill="#B8161E" stroke="#000" stroke-width="0.9"/>
<rect x="462.09" y="227.68" width="4.65" height="4.65" fill="#B8161E" stroke="#000" stroke-width="0.9"/>
<rect x="460.09" y="229.68" width="4.65" height="4.65" fill="#B8161E" stroke="#000" stroke-width="0.9"/>
<rect x="464.09" y="230.18" width="4.65" height="4.65" fill="#B8161E" stroke="#000" stroke-width="0.9"/>
<rect x="459.59" y="232.68" width="4.65" height="4.65" fill="#B8161E" stroke="#000" stroke-width="0.9"/>
<rect x="459.59" y="234.68" width="4.65" height="4.65" fill="#B8161E" stroke="#000" stroke-width="0.9"/>
<rect x="462.09" y="228.68" width="4.65" height="4.65" fill="#B8161E" stroke="#000" stroke-width="0.9"/>
<rect x="461.59" y="230.68" width="4.65" height="4.65" fill="#B8161E" stroke="#000" stroke-width="0.9"/>
<rect x="463.09" y="228.18" width="4.65" height="4.65" fill="#B8161E" stroke="#000" stroke-width="0.9"/>
<line x1="457.92" y1="231.20" x2="470.92" y2="231.20" stroke="#2D43A8" stroke-width="1.6" />
<circle cx="480.20" cy="289.80" r="2.40" fill="none" stroke="#000" stroke-width="0.9"/>
<circle cx="479.70" cy="291.80" r="2.40" fill="none" stroke="#000" stroke-width="0.9"/>
<circle cx="480.70" cy="293.00" r="2.40" fill="none" stroke="#000" stroke-width="0.9"/>
<circle cx="480.80" cy="296.50" r="2.40" fill="none" stroke="#000" stroke-width="0.9"/>
<circle cx="480.20" cy="297.90" r="2.40" fill="none" stroke="#000" stroke-width="0.9"/>
<circle cx="480.50" cy="300.00" r="2.40" fill="none" stroke="#000" stroke-width="0.9"/>
<circle cx="480.20" cy="303.30" r="2.40" fill="none" stroke="#000" stroke-width="0.9"/>
<circle cx="479.70" cy="304.50" r="2.40" fill="none" stroke="#000" stroke-width="0.9"/>
<circle cx="478.20" cy="307.30" r="2.40" fill="none" stroke="#000" stroke-width="0.9"/>
<circle cx="481.60" cy="308.00" r="2.40" fill="none" stroke="#000" stroke-width="0.9"/>
<circle cx="483.60" cy="308.60" r="2.40" fill="none" stroke="#000" stroke-width="0.9"/>
<circle cx="477.50" cy="310.70" r="2.40" fill="none" stroke="#000" stroke-width="0.9"/>
<circle cx="480.20" cy="310.70" r="2.40" fill="none" stroke="#000" stroke-width="0.9"/>
<circle cx="481.70" cy="309.50" r="2.40" fill="none" stroke="#000" stroke-width="0.9"/>
<circle cx="480.80" cy="316.70" r="2.40" fill="none" stroke="#000" stroke-width="0.9"/>
<circle cx="480.20" cy="323.50" r="2.40" fill="none" stroke="#000" stroke-width="0.9"/>
<circle cx="479.20" cy="306.00" r="2.40" fill="none" stroke="#000" stroke-width="0.9"/>
<circle cx="481.20" cy="305.00" r="2.40" fill="none" stroke="#000" stroke-width="0.9"/>
<line x1="473.70" y1="303.70" x2="486.70" y2="303.70" stroke="#2D43A8" stroke-width="1.6" />
<circle cx="494.98" cy="225.50" r="2.40" fill="#B8161E" stroke="#000" stroke-width="0.9"/>
<circle cx="497.48" cy="226.00" r="2.40" fill="#B8161E" stroke="#000" stroke-width="0.9"/>
<circle cx="495.98" cy="228.00" r="2.40" fill="#B8161E" stroke="#000" stroke-width="0.9"/>
<circle cx="494.48" cy="229.50" r="2.40" fill="#B8161E" stroke="#000" stroke-width="0.9"/>
<circle cx="497.48" cy="230.00" r="2.40" fill="#B8161E" stroke="#000" stroke-width="0.9"/>
<circle cx="495.98" cy="231.50" r="2.40" fill="#B8161E" stroke="#000" stroke-width="0.9"/>
<circle cx="494.48" cy="233.00" r="2.40" fill="#B8161E" stroke="#000" stroke-width="0.9"/>
<circle cx="497.48" cy="233.00" r="2.40" fill="#B8161E" stroke="#000" stroke-width="0.9"/>
<circle cx="495.98" cy="234.50" r="2.40" fill="#B8161E" stroke="#000" stroke-width="0.9"/>
<circle cx="494.98" cy="236.00" r="2.40" fill="#B8161E" stroke="#000" stroke-width="0.9"/>
<circle cx="496.98" cy="236.50" r="2.40" fill="#B8161E" stroke="#000" stroke-width="0.9"/>
<circle cx="495.98" cy="238.00" r="2.40" fill="#B8161E" stroke="#000" stroke-width="0.9"/>
<circle cx="495.48" cy="239.30" r="2.40" fill="#B8161E" stroke="#000" stroke-width="0.9"/>
<circle cx="496.48" cy="227.00" r="2.40" fill="#B8161E" stroke="#000" stroke-width="0.9"/>
<circle cx="495.98" cy="232.00" r="2.40" fill="#B8161E" stroke="#000" stroke-width="0.9"/>
<line x1="489.48" y1="231.20" x2="502.48" y2="231.20" stroke="#2D43A8" stroke-width="1.6" />
<text x="10.00" y="405.60" font-size="14.5" font-weight="bold">D</text>
<text x="85.40" y="403.75" font-size="11.9" text-anchor="middle" font-weight="bold" textLength="34.40" lengthAdjust="spacingAndGlyphs">Line L</text>
<text x="85.10" y="415.85" font-size="8.3" text-anchor="middle" fill="#ED1C24" textLength="55.00" lengthAdjust="spacingAndGlyphs">Gt: P = 0.0005</text>
<text x="85.20" y="425.85" font-size="8.3" text-anchor="middle" textLength="54.50" lengthAdjust="spacingAndGlyphs">Sex: P = 0.325</text>
<text x="85.00" y="435.85" font-size="8.3" text-anchor="middle" textLength="50.80" lengthAdjust="spacingAndGlyphs">Int: P = 0.088</text>
<text x="148.70" y="403.75" font-size="11.9" text-anchor="middle" font-weight="bold" textLength="39.60" lengthAdjust="spacingAndGlyphs">Line M</text>
<text x="148.30" y="415.85" font-size="8.3" text-anchor="middle" fill="#ED1C24" textLength="50.30" lengthAdjust="spacingAndGlyphs">Gt: P&lt;0.0001</text>
<text x="148.50" y="425.85" font-size="8.3" text-anchor="middle" textLength="49.80" lengthAdjust="spacingAndGlyphs">Sex: P = 0.25</text>
<text x="148.50" y="435.85" font-size="8.3" text-anchor="middle" textLength="46.30" lengthAdjust="spacingAndGlyphs">Int: P = 0.25</text>
<text x="213.00" y="403.75" font-size="11.9" text-anchor="middle" font-weight="bold" textLength="37.30" lengthAdjust="spacingAndGlyphs">Line H</text>
<text x="211.20" y="415.85" font-size="8.3" text-anchor="middle" fill="#ED1C24" textLength="49.80" lengthAdjust="spacingAndGlyphs">Gt: P&lt;0.0001</text>
<text x="211.80" y="425.85" font-size="8.3" text-anchor="middle" textLength="54.40" lengthAdjust="spacingAndGlyphs">Sex: P = 0.798</text>
<text x="211.80" y="435.85" font-size="8.3" text-anchor="middle" textLength="51.00" lengthAdjust="spacingAndGlyphs">Int: P = 0.798</text>
<text x="56.70" y="448.00" font-size="10.4" text-anchor="end" textLength="13.40" lengthAdjust="spacingAndGlyphs">n =</text>
<text x="64.50" y="448.00" font-size="10.4" text-anchor="middle">8</text>
<text x="78.75" y="448.00" font-size="10.4" text-anchor="middle">11</text>
<text x="93.00" y="448.00" font-size="10.4" text-anchor="middle">8</text>
<text x="107.50" y="448.00" font-size="10.4" text-anchor="middle">9</text>
<text x="126.25" y="448.00" font-size="10.4" text-anchor="middle">8</text>
<text x="141.25" y="448.00" font-size="10.4" text-anchor="middle">8</text>
<text x="156.25" y="448.00" font-size="10.4" text-anchor="middle">9</text>
<text x="171.25" y="448.00" font-size="10.4" text-anchor="middle">8</text>
<text x="188.00" y="448.00" font-size="10.4" text-anchor="middle">7</text>
<text x="203.25" y="448.00" font-size="10.4" text-anchor="middle">7</text>
<text x="218.75" y="448.00" font-size="10.4" text-anchor="middle">6</text>
<text x="233.75" y="448.00" font-size="10.4" text-anchor="middle">6</text>
<line x1="56.00" y1="453.60" x2="56.00" y2="493.80" stroke="#231F20" stroke-width="1.3" />
<line x1="53.00" y1="493.80" x2="58.60" y2="493.80" stroke="#231F20" stroke-width="1.3" />
<line x1="50.60" y1="454.20" x2="56.00" y2="454.20" stroke="#231F20" stroke-width="1.3" />
<text x="46.90" y="458.50" font-size="10.4" text-anchor="end">400</text>
<line x1="50.60" y1="466.60" x2="56.00" y2="466.60" stroke="#231F20" stroke-width="1.3" />
<text x="46.90" y="470.90" font-size="10.4" text-anchor="end">300</text>
<line x1="50.60" y1="479.00" x2="56.00" y2="479.00" stroke="#231F20" stroke-width="1.3" />
<text x="46.90" y="483.30" font-size="10.4" text-anchor="end">200</text>
<line x1="50.60" y1="491.40" x2="56.00" y2="491.40" stroke="#231F20" stroke-width="1.3" />
<text x="46.90" y="495.70" font-size="10.4" text-anchor="end">100</text>
<line x1="56.00" y1="503.50" x2="56.00" y2="537.00" stroke="#231F20" stroke-width="1.3" />
<line x1="53.00" y1="503.50" x2="58.60" y2="503.50" stroke="#231F20" stroke-width="1.3" />
<line x1="53.00" y1="537.00" x2="58.60" y2="537.00" stroke="#231F20" stroke-width="1.3" />
<text x="46.90" y="507.80" font-size="10.4" text-anchor="end">80</text>
<line x1="50.60" y1="512.43" x2="56.00" y2="512.43" stroke="#231F20" stroke-width="1.3" />
<text x="46.90" y="516.73" font-size="10.4" text-anchor="end">60</text>
<line x1="50.60" y1="521.37" x2="56.00" y2="521.37" stroke="#231F20" stroke-width="1.3" />
<text x="46.90" y="525.67" font-size="10.4" text-anchor="end">40</text>
<line x1="50.60" y1="530.30" x2="56.00" y2="530.30" stroke="#231F20" stroke-width="1.3" />
<text x="46.90" y="534.60" font-size="10.4" text-anchor="end">20</text>
<line x1="56.00" y1="546.70" x2="56.00" y2="580.40" stroke="#231F20" stroke-width="1.3" />
<line x1="53.00" y1="546.70" x2="58.60" y2="546.70" stroke="#231F20" stroke-width="1.3" />
<text x="46.90" y="551.00" font-size="10.4" text-anchor="end">3</text>
<line x1="50.60" y1="557.93" x2="56.00" y2="557.93" stroke="#231F20" stroke-width="1.3" />
<text x="46.90" y="562.23" font-size="10.4" text-anchor="end">2</text>
<line x1="50.60" y1="569.17" x2="56.00" y2="569.17" stroke="#231F20" stroke-width="1.3" />
<text x="46.90" y="573.47" font-size="10.4" text-anchor="end">1</text>
<line x1="50.60" y1="580.40" x2="56.00" y2="580.40" stroke="#231F20" stroke-width="1.3" />
<text x="46.90" y="584.70" font-size="10.4" text-anchor="end">0</text>
<line x1="56.00" y1="580.40" x2="245.00" y2="580.40" stroke="#231F20" stroke-width="1.3" />
<line x1="66.00" y1="580.40" x2="66.00" y2="585.60" stroke="#231F20" stroke-width="1.3" />
<text x="69.90" y="594.60" font-size="10.5" text-anchor="end" transform="rotate(-45 69.90 594.60)">M/WT</text>
<line x1="81.25" y1="580.40" x2="81.25" y2="585.60" stroke="#231F20" stroke-width="1.3" />
<text x="85.15" y="594.60" font-size="10.5" text-anchor="end" transform="rotate(-45 85.15 594.60)">M/TG</text>
<line x1="96.50" y1="580.40" x2="96.50" y2="585.60" stroke="#231F20" stroke-width="1.3" />
<text x="100.40" y="594.60" font-size="10.5" text-anchor="end" transform="rotate(-45 100.40 594.60)">F/WT</text>
<line x1="111.75" y1="580.40" x2="111.75" y2="585.60" stroke="#231F20" stroke-width="1.3" />
<text x="115.65" y="594.60" font-size="10.5" text-anchor="end" transform="rotate(-45 115.65 594.60)">F/TG</text>
<line x1="127.00" y1="580.40" x2="127.00" y2="585.60" stroke="#231F20" stroke-width="1.3" />
<text x="130.90" y="594.60" font-size="10.5" text-anchor="end" transform="rotate(-45 130.90 594.60)">M/WT</text>
<line x1="142.25" y1="580.40" x2="142.25" y2="585.60" stroke="#231F20" stroke-width="1.3" />
<text x="146.15" y="594.60" font-size="10.5" text-anchor="end" transform="rotate(-45 146.15 594.60)">M/TG</text>
<line x1="157.50" y1="580.40" x2="157.50" y2="585.60" stroke="#231F20" stroke-width="1.3" />
<text x="161.40" y="594.60" font-size="10.5" text-anchor="end" transform="rotate(-45 161.40 594.60)">F/WT</text>
<line x1="172.75" y1="580.40" x2="172.75" y2="585.60" stroke="#231F20" stroke-width="1.3" />
<text x="176.65" y="594.60" font-size="10.5" text-anchor="end" transform="rotate(-45 176.65 594.60)">F/TG</text>
<line x1="188.00" y1="580.40" x2="188.00" y2="585.60" stroke="#231F20" stroke-width="1.3" />
<text x="191.90" y="594.60" font-size="10.5" text-anchor="end" transform="rotate(-45 191.90 594.60)">M/WT</text>
<line x1="203.25" y1="580.40" x2="203.25" y2="585.60" stroke="#231F20" stroke-width="1.3" />
<text x="207.15" y="594.60" font-size="10.5" text-anchor="end" transform="rotate(-45 207.15 594.60)">M/TG</text>
<line x1="218.50" y1="580.40" x2="218.50" y2="585.60" stroke="#231F20" stroke-width="1.3" />
<text x="222.40" y="594.60" font-size="10.5" text-anchor="end" transform="rotate(-45 222.40 594.60)">F/WT</text>
<line x1="233.75" y1="580.40" x2="233.75" y2="585.60" stroke="#231F20" stroke-width="1.3" />
<text x="237.65" y="594.60" font-size="10.5" text-anchor="end" transform="rotate(-45 237.65 594.60)">F/TG</text>
<text x="21.70" y="517.60" font-size="13.5" text-anchor="middle" textLength="87.50" lengthAdjust="spacingAndGlyphs" transform="rotate(-90 21.70 517.60)">Serum ERFE (ng/ml)</text>
<rect x="59.88" y="577.27" width="4.65" height="4.65" fill="#1b1b1b" stroke="#000" stroke-width="0.9"/>
<rect x="62.38" y="576.27" width="4.65" height="4.65" fill="#1b1b1b" stroke="#000" stroke-width="0.9"/>
<rect x="64.97" y="577.47" width="4.65" height="4.65" fill="#1b1b1b" stroke="#000" stroke-width="0.9"/>
<rect x="67.47" y="576.47" width="4.65" height="4.65" fill="#1b1b1b" stroke="#000" stroke-width="0.9"/>
<rect x="63.67" y="577.88" width="4.65" height="4.65" fill="#1b1b1b" stroke="#000" stroke-width="0.9"/>
<rect x="77.42" y="570.17" width="4.65" height="4.65" fill="#F2807E" stroke="#000" stroke-width="0.9"/>
<rect x="80.92" y="571.67" width="4.65" height="4.65" fill="#F2807E" stroke="#000" stroke-width="0.9"/>
<rect x="79.42" y="569.17" width="4.65" height="4.65" fill="#F2807E" stroke="#000" stroke-width="0.9"/>
<rect x="76.42" y="574.17" width="4.65" height="4.65" fill="#F2807E" stroke="#000" stroke-width="0.9"/>
<rect x="81.42" y="576.47" width="4.65" height="4.65" fill="#F2807E" stroke="#000" stroke-width="0.9"/>
<rect x="78.92" y="573.17" width="4.65" height="4.65" fill="#F2807E" stroke="#000" stroke-width="0.9"/>
<rect x="78.92" y="559.47" width="4.65" height="4.65" fill="#F2807E" stroke="#000" stroke-width="0.9"/>
<rect x="78.92" y="567.57" width="4.65" height="4.65" fill="#F2807E" stroke="#000" stroke-width="0.9"/>
<rect x="81.22" y="574.97" width="4.65" height="4.65" fill="#F2807E" stroke="#000" stroke-width="0.9"/>
<rect x="77.22" y="578.27" width="4.65" height="4.65" fill="#F2807E" stroke="#000" stroke-width="0.9"/>
<rect x="77.92" y="577.17" width="4.65" height="4.65" fill="#F2807E" stroke="#000" stroke-width="0.9"/>
<line x1="75.00" y1="573.50" x2="87.50" y2="573.50" stroke="#231F20" stroke-width="1.6" />
<circle cx="92.70" cy="579.60" r="2.40" fill="#1b1b1b" stroke="#000" stroke-width="0.9"/>
<circle cx="95.20" cy="579.00" r="2.40" fill="#1b1b1b" stroke="#000" stroke-width="0.9"/>
<circle cx="97.80" cy="579.80" r="2.40" fill="#1b1b1b" stroke="#000" stroke-width="0.9"/>
<circle cx="100.30" cy="579.00" r="2.40" fill="#1b1b1b" stroke="#000" stroke-width="0.9"/>
<circle cx="96.50" cy="580.20" r="2.40" fill="#1b1b1b" stroke="#000" stroke-width="0.9"/>
<circle cx="109.25" cy="577.00" r="2.40" fill="#F2807E" stroke="#000" stroke-width="0.9"/>
<circle cx="113.75" cy="576.00" r="2.40" fill="#F2807E" stroke="#000" stroke-width="0.9"/>
<circle cx="114.75" cy="577.50" r="2.40" fill="#F2807E" stroke="#000" stroke-width="0.9"/>
<circle cx="112.25" cy="579.50" r="2.40" fill="#F2807E" stroke="#000" stroke-width="0.9"/>
<circle cx="108.75" cy="579.80" r="2.40" fill="#F2807E" stroke="#000" stroke-width="0.9"/>
<circle cx="111.75" cy="574.00" r="2.40" fill="#F2807E" stroke="#000" stroke-width="0.9"/>
<circle cx="110.55" cy="578.80" r="2.40" fill="#F2807E" stroke="#000" stroke-width="0.9"/>
<circle cx="114.55" cy="580.40" r="2.40" fill="#F2807E" stroke="#000" stroke-width="0.9"/>
<circle cx="111.75" cy="581.00" r="2.40" fill="#F2807E" stroke="#000" stroke-width="0.9"/>
<line x1="105.50" y1="576.40" x2="118.00" y2="576.40" stroke="#231F20" stroke-width="1.6" />
<rect x="120.88" y="577.27" width="4.65" height="4.65" fill="#1b1b1b" stroke="#000" stroke-width="0.9"/>
<rect x="123.38" y="576.27" width="4.65" height="4.65" fill="#1b1b1b" stroke="#000" stroke-width="0.9"/>
<rect x="125.98" y="577.47" width="4.65" height="4.65" fill="#1b1b1b" stroke="#000" stroke-width="0.9"/>
<rect x="128.48" y="576.47" width="4.65" height="4.65" fill="#1b1b1b" stroke="#000" stroke-width="0.9"/>
<rect x="124.67" y="577.88" width="4.65" height="4.65" fill="#1b1b1b" stroke="#000" stroke-width="0.9"/>
<rect x="138.93" y="525.17" width="4.65" height="4.65" fill="#EE1620" stroke="#000" stroke-width="0.9"/>
<rect x="141.43" y="526.67" width="4.65" height="4.65" fill="#EE1620" stroke="#000" stroke-width="0.9"/>
<rect x="137.93" y="528.67" width="4.65" height="4.65" fill="#EE1620" stroke="#000" stroke-width="0.9"/>
<rect x="141.93" y="530.17" width="4.65" height="4.65" fill="#EE1620" stroke="#000" stroke-width="0.9"/>
<rect x="139.93" y="531.67" width="4.65" height="4.65" fill="#EE1620" stroke="#000" stroke-width="0.9"/>
<rect x="138.43" y="533.17" width="4.65" height="4.65" fill="#EE1620" stroke="#000" stroke-width="0.9"/>
<rect x="142.43" y="535.17" width="4.65" height="4.65" fill="#EE1620" stroke="#000" stroke-width="0.9"/>
<rect x="140.43" y="530.67" width="4.65" height="4.65" fill="#EE1620" stroke="#000" stroke-width="0.9"/>
<line x1="136.00" y1="533.75" x2="148.50" y2="533.75" stroke="#231F20" stroke-width="1.6" />
<circle cx="153.70" cy="579.60" r="2.40" fill="#1b1b1b" stroke="#000" stroke-width="0.9"/>
<circle cx="156.20" cy="579.00" r="2.40" fill="#1b1b1b" stroke="#000" stroke-width="0.9"/>
<circle cx="158.80" cy="579.80" r="2.40" fill="#1b1b1b" stroke="#000" stroke-width="0.9"/>
<circle cx="161.30" cy="579.00" r="2.40" fill="#1b1b1b" stroke="#000" stroke-width="0.9"/>
<circle cx="157.50" cy="580.20" r="2.40" fill="#1b1b1b" stroke="#000" stroke-width="0.9"/>
<circle cx="172.75" cy="527.00" r="2.40" fill="#EE1620" stroke="#000" stroke-width="0.9"/>
<circle cx="170.75" cy="533.50" r="2.40" fill="#EE1620" stroke="#000" stroke-width="0.9"/>
<circle cx="174.25" cy="534.50" r="2.40" fill="#EE1620" stroke="#000" stroke-width="0.9"/>
<circle cx="172.25" cy="535.50" r="2.40" fill="#EE1620" stroke="#000" stroke-width="0.9"/>
<circle cx="175.25" cy="535.00" r="2.40" fill="#EE1620" stroke="#000" stroke-width="0.9"/>
<circle cx="170.25" cy="536.00" r="2.40" fill="#EE1620" stroke="#000" stroke-width="0.9"/>
<circle cx="172.75" cy="557.00" r="2.40" fill="#EE1620" stroke="#000" stroke-width="0.9"/>
<circle cx="173.75" cy="532.00" r="2.40" fill="#EE1620" stroke="#000" stroke-width="0.9"/>
<line x1="166.50" y1="534.75" x2="179.00" y2="534.75" stroke="#231F20" stroke-width="1.6" />
<rect x="181.88" y="577.27" width="4.65" height="4.65" fill="#1b1b1b" stroke="#000" stroke-width="0.9"/>
<rect x="184.38" y="576.27" width="4.65" height="4.65" fill="#1b1b1b" stroke="#000" stroke-width="0.9"/>
<rect x="186.98" y="577.47" width="4.65" height="4.65" fill="#1b1b1b" stroke="#000" stroke-width="0.9"/>
<rect x="189.48" y="576.47" width="4.65" height="4.65" fill="#1b1b1b" stroke="#000" stroke-width="0.9"/>
<rect x="185.68" y="577.88" width="4.65" height="4.65" fill="#1b1b1b" stroke="#000" stroke-width="0.9"/>
<rect x="201.43" y="466.68" width="4.65" height="4.65" fill="#B8161E" stroke="#000" stroke-width="0.9"/>
<rect x="201.93" y="475.18" width="4.65" height="4.65" fill="#B8161E" stroke="#000" stroke-width="0.9"/>
<rect x="199.43" y="478.28" width="4.65" height="4.65" fill="#B8161E" stroke="#000" stroke-width="0.9"/>
<rect x="198.43" y="483.07" width="4.65" height="4.65" fill="#B8161E" stroke="#000" stroke-width="0.9"/>
<rect x="203.43" y="482.18" width="4.65" height="4.65" fill="#B8161E" stroke="#000" stroke-width="0.9"/>
<rect x="198.93" y="488.88" width="4.65" height="4.65" fill="#B8161E" stroke="#000" stroke-width="0.9"/>
<rect x="202.43" y="486.68" width="4.65" height="4.65" fill="#B8161E" stroke="#000" stroke-width="0.9"/>
<line x1="197.00" y1="482.40" x2="209.50" y2="482.40" stroke="#231F20" stroke-width="1.6" />
<circle cx="214.70" cy="579.60" r="2.40" fill="#1b1b1b" stroke="#000" stroke-width="0.9"/>
<circle cx="217.20" cy="579.00" r="2.40" fill="#1b1b1b" stroke="#000" stroke-width="0.9"/>
<circle cx="219.80" cy="579.80" r="2.40" fill="#1b1b1b" stroke="#000" stroke-width="0.9"/>
<circle cx="222.30" cy="579.00" r="2.40" fill="#1b1b1b" stroke="#000" stroke-width="0.9"/>
<circle cx="218.50" cy="580.20" r="2.40" fill="#1b1b1b" stroke="#000" stroke-width="0.9"/>
<circle cx="233.75" cy="472.20" r="2.40" fill="#B8161E" stroke="#000" stroke-width="0.9"/>
<circle cx="232.25" cy="479.60" r="2.40" fill="#B8161E" stroke="#000" stroke-width="0.9"/>
<circle cx="234.75" cy="481.00" r="2.40" fill="#B8161E" stroke="#000" stroke-width="0.9"/>
<circle cx="233.75" cy="483.80" r="2.40" fill="#B8161E" stroke="#000" stroke-width="0.9"/>
<circle cx="236.25" cy="484.50" r="2.40" fill="#B8161E" stroke="#000" stroke-width="0.9"/>
<circle cx="233.75" cy="490.70" r="2.40" fill="#B8161E" stroke="#000" stroke-width="0.9"/>
<line x1="227.50" y1="481.70" x2="240.00" y2="481.70" stroke="#231F20" stroke-width="1.6" />
<text x="266.30" y="405.60" font-size="14.5" font-weight="bold">E</text>
<text x="347.60" y="403.75" font-size="11.9" text-anchor="middle" font-weight="bold" textLength="34.40" lengthAdjust="spacingAndGlyphs">Line L</text>
<text x="346.70" y="415.85" font-size="8.3" text-anchor="middle" fill="#ED1C24" textLength="50.20" lengthAdjust="spacingAndGlyphs">Gt: P&lt;0.0001</text>
<text x="347.20" y="425.85" font-size="8.3" text-anchor="middle" fill="#ED1C24" textLength="54.10" lengthAdjust="spacingAndGlyphs">Sex: P = 0.025</text>
<text x="347.00" y="435.85" font-size="8.3" text-anchor="middle" fill="#ED1C24" textLength="50.80" lengthAdjust="spacingAndGlyphs">Int: P = 0.025</text>
<text x="410.10" y="403.75" font-size="11.9" text-anchor="middle" font-weight="bold" textLength="39.80" lengthAdjust="spacingAndGlyphs">Line M</text>
<text x="409.60" y="415.85" font-size="8.3" text-anchor="middle" fill="#ED1C24" textLength="50.00" lengthAdjust="spacingAndGlyphs">Gt: P&lt;0.0001</text>
<text x="409.70" y="425.85" font-size="8.3" text-anchor="middle" textLength="53.50" lengthAdjust="spacingAndGlyphs">Sex: P = 0.646</text>
<text x="409.90" y="435.85" font-size="8.3" text-anchor="middle" textLength="50.60" lengthAdjust="spacingAndGlyphs">Int: P = 0.637</text>
<text x="472.90" y="403.75" font-size="11.9" text-anchor="middle" font-weight="bold" textLength="37.00" lengthAdjust="spacingAndGlyphs">Line H</text>
<text x="471.20" y="415.85" font-size="8.3" text-anchor="middle" fill="#ED1C24" textLength="49.60" lengthAdjust="spacingAndGlyphs">Gt: P&lt;0.0001</text>
<text x="471.50" y="425.85" font-size="8.3" text-anchor="middle" textLength="53.80" lengthAdjust="spacingAndGlyphs">Sex: P = 0.651</text>
<text x="471.80" y="435.85" font-size="8.3" text-anchor="middle" textLength="50.80" lengthAdjust="spacingAndGlyphs">Int: P = 0.652</text>
<text x="318.60" y="448.00" font-size="10.4" text-anchor="end" textLength="13.40" lengthAdjust="spacingAndGlyphs">n =</text>
<text x="326.70" y="448.00" font-size="10.4" text-anchor="middle">7</text>
<text x="340.70" y="448.00" font-size="10.4" text-anchor="middle">9</text>
<text x="355.00" y="448.00" font-size="10.4" text-anchor="middle">7</text>
<text x="368.75" y="448.00" font-size="10.4" text-anchor="middle">7</text>
<text x="387.50" y="448.00" font-size="10.4" text-anchor="middle">7</text>
<text x="400.90" y="448.00" font-size="10.4" text-anchor="middle">11</text>
<text x="417.40" y="448.00" font-size="10.4" text-anchor="middle">8</text>
<text x="432.20" y="448.00" font-size="10.4" text-anchor="middle">8</text>
<text x="448.30" y="448.00" font-size="10.4" text-anchor="middle">8</text>
<text x="462.80" y="448.00" font-size="10.4" text-anchor="middle">8</text>
<text x="478.20" y="448.00" font-size="10.4" text-anchor="middle">8</text>
<text x="493.50" y="448.00" font-size="10.4" text-anchor="middle">8</text>
<line x1="316.30" y1="454.40" x2="316.30" y2="494.40" stroke="#231F20" stroke-width="1.3" />
<line x1="313.30" y1="494.40" x2="318.90" y2="494.40" stroke="#231F20" stroke-width="1.3" />
<line x1="310.90" y1="455.00" x2="316.30" y2="455.00" stroke="#231F20" stroke-width="1.3" />
<text x="307.20" y="459.30" font-size="10.4" text-anchor="end">400</text>
<line x1="310.90" y1="467.33" x2="316.30" y2="467.33" stroke="#231F20" stroke-width="1.3" />
<text x="307.20" y="471.63" font-size="10.4" text-anchor="end">300</text>
<line x1="310.90" y1="479.67" x2="316.30" y2="479.67" stroke="#231F20" stroke-width="1.3" />
<text x="307.20" y="483.97" font-size="10.4" text-anchor="end">200</text>
<line x1="310.90" y1="492.00" x2="316.30" y2="492.00" stroke="#231F20" stroke-width="1.3" />
<text x="307.20" y="496.30" font-size="10.4" text-anchor="end">100</text>
<line x1="316.30" y1="503.75" x2="316.30" y2="537.20" stroke="#231F20" stroke-width="1.3" />
<line x1="313.30" y1="503.75" x2="318.90" y2="503.75" stroke="#231F20" stroke-width="1.3" />
<line x1="313.30" y1="537.20" x2="318.90" y2="537.20" stroke="#231F20" stroke-width="1.3" />
<text x="307.20" y="508.05" font-size="10.4" text-anchor="end">80</text>
<line x1="310.90" y1="512.67" x2="316.30" y2="512.67" stroke="#231F20" stroke-width="1.3" />
<text x="307.20" y="516.97" font-size="10.4" text-anchor="end">60</text>
<line x1="310.90" y1="521.58" x2="316.30" y2="521.58" stroke="#231F20" stroke-width="1.3" />
<text x="307.20" y="525.88" font-size="10.4" text-anchor="end">40</text>
<line x1="310.90" y1="530.50" x2="316.30" y2="530.50" stroke="#231F20" stroke-width="1.3" />
<text x="307.20" y="534.80" font-size="10.4" text-anchor="end">20</text>
<line x1="316.30" y1="547.00" x2="316.30" y2="580.00" stroke="#231F20" stroke-width="1.3" />
<line x1="313.30" y1="547.00" x2="318.90" y2="547.00" stroke="#231F20" stroke-width="1.3" />
<text x="307.20" y="551.30" font-size="10.4" text-anchor="end">3</text>
<line x1="310.90" y1="558.00" x2="316.30" y2="558.00" stroke="#231F20" stroke-width="1.3" />
<text x="307.20" y="562.30" font-size="10.4" text-anchor="end">2</text>
<line x1="310.90" y1="569.00" x2="316.30" y2="569.00" stroke="#231F20" stroke-width="1.3" />
<text x="307.20" y="573.30" font-size="10.4" text-anchor="end">1</text>
<line x1="310.90" y1="580.00" x2="316.30" y2="580.00" stroke="#231F20" stroke-width="1.3" />
<text x="307.20" y="584.30" font-size="10.4" text-anchor="end">0</text>
<line x1="316.30" y1="580.00" x2="503.80" y2="580.00" stroke="#231F20" stroke-width="1.3" />
<line x1="326.25" y1="580.00" x2="326.25" y2="585.20" stroke="#231F20" stroke-width="1.3" />
<text x="330.15" y="594.20" font-size="10.5" text-anchor="end" transform="rotate(-45 330.15 594.20)">M/WT</text>
<line x1="341.38" y1="580.00" x2="341.38" y2="585.20" stroke="#231F20" stroke-width="1.3" />
<text x="345.28" y="594.20" font-size="10.5" text-anchor="end" transform="rotate(-45 345.28 594.20)">M/TG</text>
<line x1="356.51" y1="580.00" x2="356.51" y2="585.20" stroke="#231F20" stroke-width="1.3" />
<text x="360.41" y="594.20" font-size="10.5" text-anchor="end" transform="rotate(-45 360.41 594.20)">F/WT</text>
<line x1="371.64" y1="580.00" x2="371.64" y2="585.20" stroke="#231F20" stroke-width="1.3" />
<text x="375.54" y="594.20" font-size="10.5" text-anchor="end" transform="rotate(-45 375.54 594.20)">F/TG</text>
<line x1="386.77" y1="580.00" x2="386.77" y2="585.20" stroke="#231F20" stroke-width="1.3" />
<text x="390.67" y="594.20" font-size="10.5" text-anchor="end" transform="rotate(-45 390.67 594.20)">M/WT</text>
<line x1="401.90" y1="580.00" x2="401.90" y2="585.20" stroke="#231F20" stroke-width="1.3" />
<text x="405.80" y="594.20" font-size="10.5" text-anchor="end" transform="rotate(-45 405.80 594.20)">M/TG</text>
<line x1="417.03" y1="580.00" x2="417.03" y2="585.20" stroke="#231F20" stroke-width="1.3" />
<text x="420.93" y="594.20" font-size="10.5" text-anchor="end" transform="rotate(-45 420.93 594.20)">F/WT</text>
<line x1="432.16" y1="580.00" x2="432.16" y2="585.20" stroke="#231F20" stroke-width="1.3" />
<text x="436.06" y="594.20" font-size="10.5" text-anchor="end" transform="rotate(-45 436.06 594.20)">F/TG</text>
<line x1="447.29" y1="580.00" x2="447.29" y2="585.20" stroke="#231F20" stroke-width="1.3" />
<text x="451.19" y="594.20" font-size="10.5" text-anchor="end" transform="rotate(-45 451.19 594.20)">M/WT</text>
<line x1="462.42" y1="580.00" x2="462.42" y2="585.20" stroke="#231F20" stroke-width="1.3" />
<text x="466.32" y="594.20" font-size="10.5" text-anchor="end" transform="rotate(-45 466.32 594.20)">M/TG</text>
<line x1="477.55" y1="580.00" x2="477.55" y2="585.20" stroke="#231F20" stroke-width="1.3" />
<text x="481.45" y="594.20" font-size="10.5" text-anchor="end" transform="rotate(-45 481.45 594.20)">F/WT</text>
<line x1="492.68" y1="580.00" x2="492.68" y2="585.20" stroke="#231F20" stroke-width="1.3" />
<text x="496.58" y="594.20" font-size="10.5" text-anchor="end" transform="rotate(-45 496.58 594.20)">F/TG</text>
<line x1="379.60" y1="455.00" x2="379.60" y2="579.00" stroke="#9a9a9a" stroke-width="0.9" stroke-dasharray="0.9 1.1"/>
<line x1="439.70" y1="455.00" x2="439.70" y2="579.00" stroke="#9a9a9a" stroke-width="0.9" stroke-dasharray="0.9 1.1"/>
<text x="278.10" y="517.60" font-size="13.5" text-anchor="middle" textLength="87.50" lengthAdjust="spacingAndGlyphs" transform="rotate(-90 278.10 517.60)">Serum ERFE (ng/ml)</text>
<rect x="322.32" y="577.47" width="4.65" height="4.65" fill="#1b1b1b" stroke="#000" stroke-width="0.9"/>
<rect x="326.93" y="577.47" width="4.65" height="4.65" fill="#1b1b1b" stroke="#000" stroke-width="0.9"/>
<rect x="339.06" y="577.67" width="4.65" height="4.65" fill="#F2807E" stroke="#000" stroke-width="0.9"/>
<rect x="337.56" y="567.67" width="4.65" height="4.65" fill="#F2807E" stroke="#000" stroke-width="0.9"/>
<rect x="340.56" y="568.67" width="4.65" height="4.65" fill="#F2807E" stroke="#000" stroke-width="0.9"/>
<rect x="339.06" y="570.17" width="4.65" height="4.65" fill="#F2807E" stroke="#000" stroke-width="0.9"/>
<rect x="337.06" y="571.47" width="4.65" height="4.65" fill="#F2807E" stroke="#000" stroke-width="0.9"/>
<rect x="341.06" y="571.67" width="4.65" height="4.65" fill="#F2807E" stroke="#000" stroke-width="0.9"/>
<rect x="339.06" y="567.17" width="4.65" height="4.65" fill="#F2807E" stroke="#000" stroke-width="0.9"/>
<rect x="340.56" y="570.17" width="4.65" height="4.65" fill="#F2807E" stroke="#000" stroke-width="0.9"/>
<rect x="338.06" y="569.17" width="4.65" height="4.65" fill="#F2807E" stroke="#000" stroke-width="0.9"/>
<line x1="335.13" y1="572.80" x2="347.63" y2="572.80" stroke="#2D43A8" stroke-width="1.6" />
<circle cx="352.71" cy="579.60" r="2.40" fill="#1b1b1b" stroke="#000" stroke-width="0.9"/>
<circle cx="355.21" cy="579.00" r="2.40" fill="#1b1b1b" stroke="#000" stroke-width="0.9"/>
<circle cx="357.81" cy="579.80" r="2.40" fill="#1b1b1b" stroke="#000" stroke-width="0.9"/>
<circle cx="360.31" cy="579.00" r="2.40" fill="#1b1b1b" stroke="#000" stroke-width="0.9"/>
<circle cx="356.51" cy="580.20" r="2.40" fill="#1b1b1b" stroke="#000" stroke-width="0.9"/>
<circle cx="372.44" cy="557.00" r="2.40" fill="#F2807E" stroke="#000" stroke-width="0.9"/>
<circle cx="373.44" cy="562.20" r="2.40" fill="#F2807E" stroke="#000" stroke-width="0.9"/>
<circle cx="370.54" cy="566.40" r="2.40" fill="#F2807E" stroke="#000" stroke-width="0.9"/>
<circle cx="374.14" cy="572.30" r="2.40" fill="#F2807E" stroke="#000" stroke-width="0.9"/>
<circle cx="370.64" cy="571.60" r="2.40" fill="#F2807E" stroke="#000" stroke-width="0.9"/>
<circle cx="372.44" cy="570.00" r="2.40" fill="#F2807E" stroke="#000" stroke-width="0.9"/>
<circle cx="369.64" cy="569.50" r="2.40" fill="#F2807E" stroke="#000" stroke-width="0.9"/>
<line x1="365.39" y1="567.60" x2="377.89" y2="567.60" stroke="#2D43A8" stroke-width="1.6" />
<rect x="380.64" y="577.27" width="4.65" height="4.65" fill="#1b1b1b" stroke="#000" stroke-width="0.9"/>
<rect x="383.14" y="576.27" width="4.65" height="4.65" fill="#1b1b1b" stroke="#000" stroke-width="0.9"/>
<rect x="385.75" y="577.47" width="4.65" height="4.65" fill="#1b1b1b" stroke="#000" stroke-width="0.9"/>
<rect x="388.25" y="576.47" width="4.65" height="4.65" fill="#1b1b1b" stroke="#000" stroke-width="0.9"/>
<rect x="384.44" y="577.88" width="4.65" height="4.65" fill="#1b1b1b" stroke="#000" stroke-width="0.9"/>
<rect x="399.57" y="513.17" width="4.65" height="4.65" fill="#EE1620" stroke="#000" stroke-width="0.9"/>
<rect x="398.07" y="515.17" width="4.65" height="4.65" fill="#EE1620" stroke="#000" stroke-width="0.9"/>
<rect x="401.07" y="516.17" width="4.65" height="4.65" fill="#EE1620" stroke="#000" stroke-width="0.9"/>
<rect x="397.57" y="518.67" width="4.65" height="4.65" fill="#EE1620" stroke="#000" stroke-width="0.9"/>
<rect x="401.57" y="519.67" width="4.65" height="4.65" fill="#EE1620" stroke="#000" stroke-width="0.9"/>
<rect x="397.57" y="522.17" width="4.65" height="4.65" fill="#EE1620" stroke="#000" stroke-width="0.9"/>
<rect x="401.57" y="523.17" width="4.65" height="4.65" fill="#EE1620" stroke="#000" stroke-width="0.9"/>
<rect x="397.57" y="525.67" width="4.65" height="4.65" fill="#EE1620" stroke="#000" stroke-width="0.9"/>
<rect x="401.07" y="526.67" width="4.65" height="4.65" fill="#EE1620" stroke="#000" stroke-width="0.9"/>
<rect x="398.07" y="527.67" width="4.65" height="4.65" fill="#EE1620" stroke="#000" stroke-width="0.9"/>
<rect x="399.57" y="520.67" width="4.65" height="4.65" fill="#EE1620" stroke="#000" stroke-width="0.9"/>
<line x1="395.65" y1="523.40" x2="408.15" y2="523.40" stroke="#2D43A8" stroke-width="1.6" />
<circle cx="413.23" cy="579.60" r="2.40" fill="#1b1b1b" stroke="#000" stroke-width="0.9"/>
<circle cx="415.73" cy="579.00" r="2.40" fill="#1b1b1b" stroke="#000" stroke-width="0.9"/>
<circle cx="418.33" cy="579.80" r="2.40" fill="#1b1b1b" stroke="#000" stroke-width="0.9"/>
<circle cx="420.83" cy="579.00" r="2.40" fill="#1b1b1b" stroke="#000" stroke-width="0.9"/>
<circle cx="417.03" cy="580.20" r="2.40" fill="#1b1b1b" stroke="#000" stroke-width="0.9"/>
<circle cx="415.63" cy="574.40" r="2.40" fill="none" stroke="#000" stroke-width="0.9"/>
<circle cx="430.16" cy="521.40" r="2.40" fill="#EE1620" stroke="#000" stroke-width="0.9"/>
<circle cx="432.16" cy="522.00" r="2.40" fill="#EE1620" stroke="#000" stroke-width="0.9"/>
<circle cx="434.16" cy="521.80" r="2.40" fill="#EE1620" stroke="#000" stroke-width="0.9"/>
<circle cx="431.16" cy="524.00" r="2.40" fill="#EE1620" stroke="#000" stroke-width="0.9"/>
<circle cx="433.66" cy="524.50" r="2.40" fill="#EE1620" stroke="#000" stroke-width="0.9"/>
<circle cx="429.66" cy="523.00" r="2.40" fill="#EE1620" stroke="#000" stroke-width="0.9"/>
<circle cx="434.66" cy="523.50" r="2.40" fill="#EE1620" stroke="#000" stroke-width="0.9"/>
<circle cx="432.16" cy="534.00" r="2.40" fill="#EE1620" stroke="#000" stroke-width="0.9"/>
<line x1="425.91" y1="524.20" x2="438.41" y2="524.20" stroke="#2D43A8" stroke-width="1.6" />
<rect x="441.17" y="577.27" width="4.65" height="4.65" fill="#1b1b1b" stroke="#000" stroke-width="0.9"/>
<rect x="443.67" y="576.27" width="4.65" height="4.65" fill="#1b1b1b" stroke="#000" stroke-width="0.9"/>
<rect x="446.27" y="577.47" width="4.65" height="4.65" fill="#1b1b1b" stroke="#000" stroke-width="0.9"/>
<rect x="448.77" y="576.47" width="4.65" height="4.65" fill="#1b1b1b" stroke="#000" stroke-width="0.9"/>
<rect x="444.97" y="577.88" width="4.65" height="4.65" fill="#1b1b1b" stroke="#000" stroke-width="0.9"/>
<line x1="441.04" y1="579.40" x2="453.54" y2="579.40" stroke="#2D43A8" stroke-width="1.6" />
<rect x="461.20" y="462.98" width="4.65" height="4.65" fill="#B8161E" stroke="#000" stroke-width="0.9"/>
<rect x="457.70" y="467.18" width="4.65" height="4.65" fill="#B8161E" stroke="#000" stroke-width="0.9"/>
<rect x="463.00" y="469.28" width="4.65" height="4.65" fill="#B8161E" stroke="#000" stroke-width="0.9"/>
<rect x="459.90" y="468.68" width="4.65" height="4.65" fill="#B8161E" stroke="#000" stroke-width="0.9"/>
<rect x="460.20" y="476.48" width="4.65" height="4.65" fill="#B8161E" stroke="#000" stroke-width="0.9"/>
<rect x="461.20" y="482.57" width="4.65" height="4.65" fill="#B8161E" stroke="#000" stroke-width="0.9"/>
<rect x="459.30" y="485.68" width="4.65" height="4.65" fill="#B8161E" stroke="#000" stroke-width="0.9"/>
<rect x="460.60" y="472.68" width="4.65" height="4.65" fill="#B8161E" stroke="#000" stroke-width="0.9"/>
<line x1="456.17" y1="475.30" x2="468.67" y2="475.30" stroke="#2D43A8" stroke-width="1.6" />
<circle cx="473.75" cy="579.60" r="2.40" fill="#1b1b1b" stroke="#000" stroke-width="0.9"/>
<circle cx="476.25" cy="579.00" r="2.40" fill="#1b1b1b" stroke="#000" stroke-width="0.9"/>
<circle cx="478.85" cy="579.80" r="2.40" fill="#1b1b1b" stroke="#000" stroke-width="0.9"/>
<circle cx="481.35" cy="579.00" r="2.40" fill="#1b1b1b" stroke="#000" stroke-width="0.9"/>
<circle cx="477.55" cy="580.20" r="2.40" fill="#1b1b1b" stroke="#000" stroke-width="0.9"/>
<circle cx="490.18" cy="467.90" r="2.40" fill="#B8161E" stroke="#000" stroke-width="0.9"/>
<circle cx="492.88" cy="470.60" r="2.40" fill="#B8161E" stroke="#000" stroke-width="0.9"/>
<circle cx="495.48" cy="473.20" r="2.40" fill="#B8161E" stroke="#000" stroke-width="0.9"/>
<circle cx="490.18" cy="474.80" r="2.40" fill="#B8161E" stroke="#000" stroke-width="0.9"/>
<circle cx="492.88" cy="477.50" r="2.40" fill="#B8161E" stroke="#000" stroke-width="0.9"/>
<circle cx="495.48" cy="482.80" r="2.40" fill="#B8161E" stroke="#000" stroke-width="0.9"/>
<circle cx="492.28" cy="482.20" r="2.40" fill="#B8161E" stroke="#000" stroke-width="0.9"/>
<circle cx="490.18" cy="485.40" r="2.40" fill="#B8161E" stroke="#000" stroke-width="0.9"/>
<line x1="486.43" y1="476.70" x2="498.93" y2="476.70" stroke="#2D43A8" stroke-width="1.6" />
<path d="M323.5 554.8 V549.6 H342.3 V554.8" fill="none" stroke="#231F20" stroke-width="1.3"/>
<text x="332.70" y="550.20" font-size="10.5" text-anchor="middle" font-weight="bold" textLength="13.20" lengthAdjust="spacingAndGlyphs">***</text>
<path d="M353.4 549.8 V544.8 H371.9 V549.8" fill="none" stroke="#231F20" stroke-width="1.3"/>
<text x="362.80" y="545.30" font-size="10.5" text-anchor="middle" font-weight="bold" textLength="17.30" lengthAdjust="spacingAndGlyphs">****</text>
<text x="10.50" y="660.20" font-size="14.5" font-weight="bold">F</text>
<line x1="88.00" y1="653.15" x2="88.00" y2="835.60" stroke="#231F20" stroke-width="1.3" />
<line x1="83.40" y1="653.75" x2="88.00" y2="653.75" stroke="#231F20" stroke-width="1.3" />
<text x="80.40" y="658.05" font-size="10.4" text-anchor="end">512</text>
<line x1="83.40" y1="667.98" x2="88.00" y2="667.98" stroke="#231F20" stroke-width="1.3" />
<text x="80.40" y="672.28" font-size="10.4" text-anchor="end">256</text>
<line x1="83.40" y1="682.21" x2="88.00" y2="682.21" stroke="#231F20" stroke-width="1.3" />
<text x="80.40" y="686.51" font-size="10.4" text-anchor="end">128</text>
<line x1="83.40" y1="696.44" x2="88.00" y2="696.44" stroke="#231F20" stroke-width="1.3" />
<text x="80.40" y="700.74" font-size="10.4" text-anchor="end">64</text>
<line x1="83.40" y1="710.67" x2="88.00" y2="710.67" stroke="#231F20" stroke-width="1.3" />
<text x="80.40" y="714.97" font-size="10.4" text-anchor="end">32</text>
<line x1="83.40" y1="724.90" x2="88.00" y2="724.90" stroke="#231F20" stroke-width="1.3" />
<text x="80.40" y="729.20" font-size="10.4" text-anchor="end">16</text>
<line x1="83.40" y1="739.13" x2="88.00" y2="739.13" stroke="#231F20" stroke-width="1.3" />
<text x="80.40" y="743.43" font-size="10.4" text-anchor="end">8</text>
<line x1="83.40" y1="753.36" x2="88.00" y2="753.36" stroke="#231F20" stroke-width="1.3" />
<text x="80.40" y="757.66" font-size="10.4" text-anchor="end">4</text>
<line x1="83.40" y1="767.59" x2="88.00" y2="767.59" stroke="#231F20" stroke-width="1.3" />
<text x="80.40" y="771.89" font-size="10.4" text-anchor="end">2</text>
<line x1="83.40" y1="781.82" x2="88.00" y2="781.82" stroke="#231F20" stroke-width="1.3" />
<text x="80.40" y="786.12" font-size="10.4" text-anchor="end">1</text>
<line x1="83.40" y1="796.05" x2="88.00" y2="796.05" stroke="#231F20" stroke-width="1.3" />
<text x="80.40" y="800.35" font-size="10.4" text-anchor="end">0.5</text>
<line x1="83.40" y1="810.28" x2="88.00" y2="810.28" stroke="#231F20" stroke-width="1.3" />
<text x="80.40" y="814.58" font-size="10.4" text-anchor="end">0.25</text>
<line x1="83.40" y1="824.51" x2="88.00" y2="824.51" stroke="#231F20" stroke-width="1.3" />
<text x="80.40" y="828.81" font-size="10.4" text-anchor="end">0.125</text>
<line x1="88.00" y1="835.60" x2="180.00" y2="835.60" stroke="#231F20" stroke-width="1.3" />
<line x1="92.60" y1="835.60" x2="92.60" y2="841.10" stroke="#231F20" stroke-width="1.3" />
<text x="95.60" y="849.60" font-size="10.2" text-anchor="end" transform="rotate(-45 95.60 849.60)">0.125</text>
<line x1="105.08" y1="835.60" x2="105.08" y2="841.10" stroke="#231F20" stroke-width="1.3" />
<text x="108.08" y="849.60" font-size="10.2" text-anchor="end" transform="rotate(-45 108.08 849.60)">0.25</text>
<line x1="117.56" y1="835.60" x2="117.56" y2="841.10" stroke="#231F20" stroke-width="1.3" />
<text x="120.56" y="849.60" font-size="10.2" text-anchor="end" transform="rotate(-45 120.56 849.60)">0.5</text>
<line x1="130.04" y1="835.60" x2="130.04" y2="841.10" stroke="#231F20" stroke-width="1.3" />
<text x="133.04" y="849.60" font-size="10.2" text-anchor="end" transform="rotate(-45 133.04 849.60)">1</text>
<line x1="142.52" y1="835.60" x2="142.52" y2="841.10" stroke="#231F20" stroke-width="1.3" />
<text x="145.52" y="849.60" font-size="10.2" text-anchor="end" transform="rotate(-45 145.52 849.60)">2</text>
<line x1="155.00" y1="835.60" x2="155.00" y2="841.10" stroke="#231F20" stroke-width="1.3" />
<text x="158.00" y="849.60" font-size="10.2" text-anchor="end" transform="rotate(-45 158.00 849.60)">4</text>
<line x1="167.48" y1="835.60" x2="167.48" y2="841.10" stroke="#231F20" stroke-width="1.3" />
<text x="170.48" y="849.60" font-size="10.2" text-anchor="end" transform="rotate(-45 170.48 849.60)">8</text>
<line x1="179.96" y1="835.60" x2="179.96" y2="841.10" stroke="#231F20" stroke-width="1.3" />
<text x="182.96" y="849.60" font-size="10.2" text-anchor="end" transform="rotate(-45 182.96 849.60)">16</text>
<text x="46.90" y="744.20" font-size="13.5" text-anchor="middle" textLength="87.70" lengthAdjust="spacingAndGlyphs" transform="rotate(-90 46.90 744.20)">Serum ERFE (ng/ml)</text>
<line x1="165.80" y1="656.50" x2="103.00" y2="835.40" stroke="#111" stroke-width="0.9" />
<rect x="157.60" y="662.60" width="4.8" height="4.8" fill="#B8161E" stroke="#000" stroke-width="0.9"/>
<circle cx="154.50" cy="667.50" r="2.60" fill="#B8161E" stroke="#000" stroke-width="0.9"/>
<rect x="154.60" y="670.10" width="4.8" height="4.8" fill="#B8161E" stroke="#000" stroke-width="0.9"/>
<circle cx="151.50" cy="672.50" r="2.60" fill="#B8161E" stroke="#000" stroke-width="0.9"/>
<circle cx="160.30" cy="677.00" r="2.60" fill="#B8161E" stroke="#000" stroke-width="0.9"/>
<rect x="153.60" y="677.10" width="4.8" height="4.8" fill="#B8161E" stroke="#000" stroke-width="0.9"/>
<circle cx="165.50" cy="673.50" r="2.60" fill="#B8161E" stroke="#000" stroke-width="0.9"/>
<rect x="168.10" y="673.10" width="4.8" height="4.8" fill="#B8161E" stroke="#000" stroke-width="0.9"/>
<rect x="167.10" y="677.10" width="4.8" height="4.8" fill="#B8161E" stroke="#000" stroke-width="0.9"/>
<circle cx="163.80" cy="685.50" r="2.60" fill="#B8161E" stroke="#000" stroke-width="0.9"/>
<rect x="163.40" y="684.10" width="4.8" height="4.8" fill="#B8161E" stroke="#000" stroke-width="0.9"/>
<circle cx="142.50" cy="713.75" r="2.60" fill="#EE1620" stroke="#000" stroke-width="0.9"/>
<rect x="138.85" y="713.35" width="4.8" height="4.8" fill="#EE1620" stroke="#000" stroke-width="0.9"/>
<rect x="133.85" y="717.10" width="4.8" height="4.8" fill="#EE1620" stroke="#000" stroke-width="0.9"/>
<rect x="142.60" y="720.85" width="4.8" height="4.8" fill="#EE1620" stroke="#000" stroke-width="0.9"/>
<circle cx="137.50" cy="728.00" r="2.60" fill="#EE1620" stroke="#000" stroke-width="0.9"/>
<rect x="139.60" y="727.10" width="4.8" height="4.8" fill="#EE1620" stroke="#000" stroke-width="0.9"/>
<rect x="143.85" y="727.10" width="4.8" height="4.8" fill="#EE1620" stroke="#000" stroke-width="0.9"/>
<rect x="148.85" y="728.35" width="4.8" height="4.8" fill="#EE1620" stroke="#000" stroke-width="0.9"/>
<circle cx="138.00" cy="732.50" r="2.60" fill="#EE1620" stroke="#000" stroke-width="0.9"/>
<circle cx="145.00" cy="735.50" r="2.60" fill="#EE1620" stroke="#000" stroke-width="0.9"/>
<rect x="146.35" y="735.10" width="4.8" height="4.8" fill="#EE1620" stroke="#000" stroke-width="0.9"/>
<circle cx="136.25" cy="739.25" r="2.60" fill="#EE1620" stroke="#000" stroke-width="0.9"/>
<rect x="139.60" y="742.60" width="4.8" height="4.8" fill="#EE1620" stroke="#000" stroke-width="0.9"/>
<circle cx="143.75" cy="747.50" r="2.60" fill="#EE1620" stroke="#000" stroke-width="0.9"/>
<circle cx="138.75" cy="748.75" r="2.60" fill="#EE1620" stroke="#000" stroke-width="0.9"/>
<circle cx="137.00" cy="766.25" r="2.60" fill="#EE1620" stroke="#000" stroke-width="0.9"/>
<rect x="118.10" y="768.85" width="4.8" height="4.8" fill="#F59C9E" stroke="#000" stroke-width="0.9"/>
<rect x="114.60" y="780.85" width="4.8" height="4.8" fill="#F59C9E" stroke="#000" stroke-width="0.9"/>
<circle cx="110.50" cy="798.00" r="2.60" fill="#F59C9E" stroke="#000" stroke-width="0.9"/>
<circle cx="100.50" cy="802.00" r="2.60" fill="#F59C9E" stroke="#000" stroke-width="0.9"/>
<circle cx="118.75" cy="798.00" r="2.60" fill="#F59C9E" stroke="#000" stroke-width="0.9"/>
<rect x="120.10" y="791.35" width="4.8" height="4.8" fill="#F59C9E" stroke="#000" stroke-width="0.9"/>
<rect x="122.10" y="789.60" width="4.8" height="4.8" fill="#F59C9E" stroke="#000" stroke-width="0.9"/>
<rect x="127.60" y="788.85" width="4.8" height="4.8" fill="#F59C9E" stroke="#000" stroke-width="0.9"/>
<rect x="127.60" y="791.35" width="4.8" height="4.8" fill="#F59C9E" stroke="#000" stroke-width="0.9"/>
<rect x="115.60" y="800.10" width="4.8" height="4.8" fill="#F59C9E" stroke="#000" stroke-width="0.9"/>
<rect x="109.60" y="804.60" width="4.8" height="4.8" fill="#F59C9E" stroke="#000" stroke-width="0.9"/>
<circle cx="120.50" cy="810.75" r="2.60" fill="#F59C9E" stroke="#000" stroke-width="0.9"/>
<circle cx="111.25" cy="824.50" r="2.60" fill="#F59C9E" stroke="#000" stroke-width="0.9"/>
<rect x="120.60" y="822.10" width="4.8" height="4.8" fill="#F59C9E" stroke="#000" stroke-width="0.9"/>
<circle cx="121.25" cy="795.00" r="2.60" fill="#F59C9E" stroke="#000" stroke-width="0.9"/>
<rect x="124.10" y="790.10" width="4.8" height="4.8" fill="#F59C9E" stroke="#000" stroke-width="0.9"/>
<text x="59.70" y="884.2" font-size="12.6"><tspan textLength="93.4" lengthAdjust="spacingAndGlyphs">Marrow Erfe mRNA (2</tspan><tspan dy="-4.9" font-size="10.4" textLength="17.0" lengthAdjust="spacingAndGlyphs">−ΔCt</tspan><tspan dx="1.0" font-size="9.6" textLength="34.6" lengthAdjust="spacingAndGlyphs">(<tspan font-style="italic">Hprt-Erfe</tspan>)</tspan><tspan dy="4.9" dx="0.3" textLength="3.6" lengthAdjust="spacingAndGlyphs">)</tspan></text>
<text x="266.30" y="660.20" font-size="14.5" font-weight="bold">G</text>
<line x1="356.00" y1="652.40" x2="356.00" y2="834.90" stroke="#231F20" stroke-width="1.3" />
<line x1="351.40" y1="653.00" x2="356.00" y2="653.00" stroke="#231F20" stroke-width="1.3" />
<text x="348.40" y="657.30" font-size="10.4" text-anchor="end">512</text>
<line x1="351.40" y1="667.20" x2="356.00" y2="667.20" stroke="#231F20" stroke-width="1.3" />
<text x="348.40" y="671.50" font-size="10.4" text-anchor="end">256</text>
<line x1="351.40" y1="681.40" x2="356.00" y2="681.40" stroke="#231F20" stroke-width="1.3" />
<text x="348.40" y="685.70" font-size="10.4" text-anchor="end">128</text>
<line x1="351.40" y1="695.60" x2="356.00" y2="695.60" stroke="#231F20" stroke-width="1.3" />
<text x="348.40" y="699.90" font-size="10.4" text-anchor="end">64</text>
<line x1="351.40" y1="709.80" x2="356.00" y2="709.80" stroke="#231F20" stroke-width="1.3" />
<text x="348.40" y="714.10" font-size="10.4" text-anchor="end">32</text>
<line x1="351.40" y1="724.00" x2="356.00" y2="724.00" stroke="#231F20" stroke-width="1.3" />
<text x="348.40" y="728.30" font-size="10.4" text-anchor="end">16</text>
<line x1="351.40" y1="738.20" x2="356.00" y2="738.20" stroke="#231F20" stroke-width="1.3" />
<text x="348.40" y="742.50" font-size="10.4" text-anchor="end">8</text>
<line x1="351.40" y1="752.40" x2="356.00" y2="752.40" stroke="#231F20" stroke-width="1.3" />
<text x="348.40" y="756.70" font-size="10.4" text-anchor="end">4</text>
<line x1="351.40" y1="766.60" x2="356.00" y2="766.60" stroke="#231F20" stroke-width="1.3" />
<text x="348.40" y="770.90" font-size="10.4" text-anchor="end">2</text>
<line x1="351.40" y1="780.80" x2="356.00" y2="780.80" stroke="#231F20" stroke-width="1.3" />
<text x="348.40" y="785.10" font-size="10.4" text-anchor="end">1</text>
<line x1="351.40" y1="795.00" x2="356.00" y2="795.00" stroke="#231F20" stroke-width="1.3" />
<text x="348.40" y="799.30" font-size="10.4" text-anchor="end">0.5</text>
<line x1="351.40" y1="809.20" x2="356.00" y2="809.20" stroke="#231F20" stroke-width="1.3" />
<text x="348.40" y="813.50" font-size="10.4" text-anchor="end">0.25</text>
<line x1="351.40" y1="823.40" x2="356.00" y2="823.40" stroke="#231F20" stroke-width="1.3" />
<text x="348.40" y="827.70" font-size="10.4" text-anchor="end">0.125</text>
<line x1="356.00" y1="834.90" x2="452.00" y2="834.90" stroke="#231F20" stroke-width="1.3" />
<line x1="360.20" y1="834.90" x2="360.20" y2="840.40" stroke="#231F20" stroke-width="1.3" />
<text x="363.20" y="848.90" font-size="10.2" text-anchor="end" transform="rotate(-45 363.20 848.90)">0.125</text>
<line x1="373.20" y1="834.90" x2="373.20" y2="840.40" stroke="#231F20" stroke-width="1.3" />
<text x="376.20" y="848.90" font-size="10.2" text-anchor="end" transform="rotate(-45 376.20 848.90)">0.25</text>
<line x1="386.20" y1="834.90" x2="386.20" y2="840.40" stroke="#231F20" stroke-width="1.3" />
<text x="389.20" y="848.90" font-size="10.2" text-anchor="end" transform="rotate(-45 389.20 848.90)">0.5</text>
<line x1="399.20" y1="834.90" x2="399.20" y2="840.40" stroke="#231F20" stroke-width="1.3" />
<text x="402.20" y="848.90" font-size="10.2" text-anchor="end" transform="rotate(-45 402.20 848.90)">1</text>
<line x1="412.20" y1="834.90" x2="412.20" y2="840.40" stroke="#231F20" stroke-width="1.3" />
<text x="415.20" y="848.90" font-size="10.2" text-anchor="end" transform="rotate(-45 415.20 848.90)">2</text>
<line x1="425.20" y1="834.90" x2="425.20" y2="840.40" stroke="#231F20" stroke-width="1.3" />
<text x="428.20" y="848.90" font-size="10.2" text-anchor="end" transform="rotate(-45 428.20 848.90)">4</text>
<line x1="438.20" y1="834.90" x2="438.20" y2="840.40" stroke="#231F20" stroke-width="1.3" />
<text x="441.20" y="848.90" font-size="10.2" text-anchor="end" transform="rotate(-45 441.20 848.90)">8</text>
<line x1="451.20" y1="834.90" x2="451.20" y2="840.40" stroke="#231F20" stroke-width="1.3" />
<text x="454.20" y="848.90" font-size="10.2" text-anchor="end" transform="rotate(-45 454.20 848.90)">16</text>
<text x="314.30" y="744.20" font-size="13.5" text-anchor="middle" textLength="87.70" lengthAdjust="spacingAndGlyphs" transform="rotate(-90 314.30 744.20)">Serum ERFE (ng/ml)</text>
<line x1="440.00" y1="653.75" x2="386.60" y2="795.20" stroke="#111" stroke-width="1.5" />
<rect x="423.10" y="664.60" width="4.8" height="4.8" fill="#B8161E" stroke="#000" stroke-width="0.9"/>
<rect x="427.10" y="663.35" width="4.8" height="4.8" fill="#B8161E" stroke="#000" stroke-width="0.9"/>
<rect x="432.60" y="661.35" width="4.8" height="4.8" fill="#B8161E" stroke="#000" stroke-width="0.9"/>
<rect x="436.35" y="663.85" width="4.8" height="4.8" fill="#B8161E" stroke="#000" stroke-width="0.9"/>
<rect x="433.10" y="668.85" width="4.8" height="4.8" fill="#B8161E" stroke="#000" stroke-width="0.9"/>
<rect x="424.60" y="672.60" width="4.8" height="4.8" fill="#B8161E" stroke="#000" stroke-width="0.9"/>
<rect x="420.10" y="675.10" width="4.8" height="4.8" fill="#B8161E" stroke="#000" stroke-width="0.9"/>
<rect x="415.60" y="675.60" width="4.8" height="4.8" fill="#B8161E" stroke="#000" stroke-width="0.9"/>
<rect x="426.35" y="678.35" width="4.8" height="4.8" fill="#B8161E" stroke="#000" stroke-width="0.9"/>
<rect x="438.10" y="673.35" width="4.8" height="4.8" fill="#B8161E" stroke="#000" stroke-width="0.9"/>
<rect x="430.60" y="666.10" width="4.8" height="4.8" fill="#B8161E" stroke="#000" stroke-width="0.9"/>
<rect x="428.60" y="659.60" width="4.8" height="4.8" fill="#B8161E" stroke="#000" stroke-width="0.9"/>
<rect x="418.35" y="697.10" width="4.8" height="4.8" fill="#EE1620" stroke="#000" stroke-width="0.9"/>
<rect x="423.85" y="697.60" width="4.8" height="4.8" fill="#EE1620" stroke="#000" stroke-width="0.9"/>
<rect x="413.85" y="703.10" width="4.8" height="4.8" fill="#EE1620" stroke="#000" stroke-width="0.9"/>
<rect x="418.85" y="702.10" width="4.8" height="4.8" fill="#EE1620" stroke="#000" stroke-width="0.9"/>
<rect x="422.60" y="704.60" width="4.8" height="4.8" fill="#EE1620" stroke="#000" stroke-width="0.9"/>
<rect x="427.10" y="705.60" width="4.8" height="4.8" fill="#EE1620" stroke="#000" stroke-width="0.9"/>
<rect x="417.60" y="711.35" width="4.8" height="4.8" fill="#EE1620" stroke="#000" stroke-width="0.9"/>
<rect x="422.60" y="708.35" width="4.8" height="4.8" fill="#EE1620" stroke="#000" stroke-width="0.9"/>
<rect x="420.85" y="716.35" width="4.8" height="4.8" fill="#EE1620" stroke="#000" stroke-width="0.9"/>
<rect x="419.60" y="726.85" width="4.8" height="4.8" fill="#EE1620" stroke="#000" stroke-width="0.9"/>
<rect x="421.60" y="699.60" width="4.8" height="4.8" fill="#EE1620" stroke="#000" stroke-width="0.9"/>
<rect x="384.10" y="783.60" width="4.8" height="4.8" fill="#F59C9E" stroke="#000" stroke-width="0.9"/>
<rect x="388.90" y="781.40" width="4.8" height="4.8" fill="#F59C9E" stroke="#000" stroke-width="0.9"/>
<rect x="392.10" y="781.40" width="4.8" height="4.8" fill="#F59C9E" stroke="#000" stroke-width="0.9"/>
<rect x="392.80" y="786.30" width="4.8" height="4.8" fill="#F59C9E" stroke="#000" stroke-width="0.9"/>
<rect x="391.20" y="789.60" width="4.8" height="4.8" fill="#F59C9E" stroke="#000" stroke-width="0.9"/>
<rect x="393.80" y="790.10" width="4.8" height="4.8" fill="#F59C9E" stroke="#000" stroke-width="0.9"/>
<circle cx="400.30" cy="788.20" r="2.60" fill="#F59C9E" stroke="#000" stroke-width="0.9"/>
<circle cx="399.30" cy="783.80" r="2.60" fill="#F59C9E" stroke="#000" stroke-width="0.9"/>
<circle cx="397.40" cy="781.00" r="2.60" fill="#F59C9E" stroke="#000" stroke-width="0.9"/>
<circle cx="396.20" cy="777.40" r="2.60" fill="#F59C9E" stroke="#000" stroke-width="0.9"/>
<circle cx="397.40" cy="771.50" r="2.60" fill="#F59C9E" stroke="#000" stroke-width="0.9"/>
<circle cx="397.40" cy="766.00" r="2.60" fill="#F59C9E" stroke="#000" stroke-width="0.9"/>
<text x="329.60" y="884.2" font-size="12.6"><tspan textLength="93.4" lengthAdjust="spacingAndGlyphs">Marrow Erfe mRNA (2</tspan><tspan dy="-4.9" font-size="10.4" textLength="17.0" lengthAdjust="spacingAndGlyphs">−ΔCt</tspan><tspan dx="1.0" font-size="9.6" textLength="34.6" lengthAdjust="spacingAndGlyphs">(<tspan font-style="italic">Hprt-Erfe</tspan>)</tspan><tspan dy="4.9" dx="0.3" textLength="3.6" lengthAdjust="spacingAndGlyphs">)</tspan></text>
</svg>
</body></html>
